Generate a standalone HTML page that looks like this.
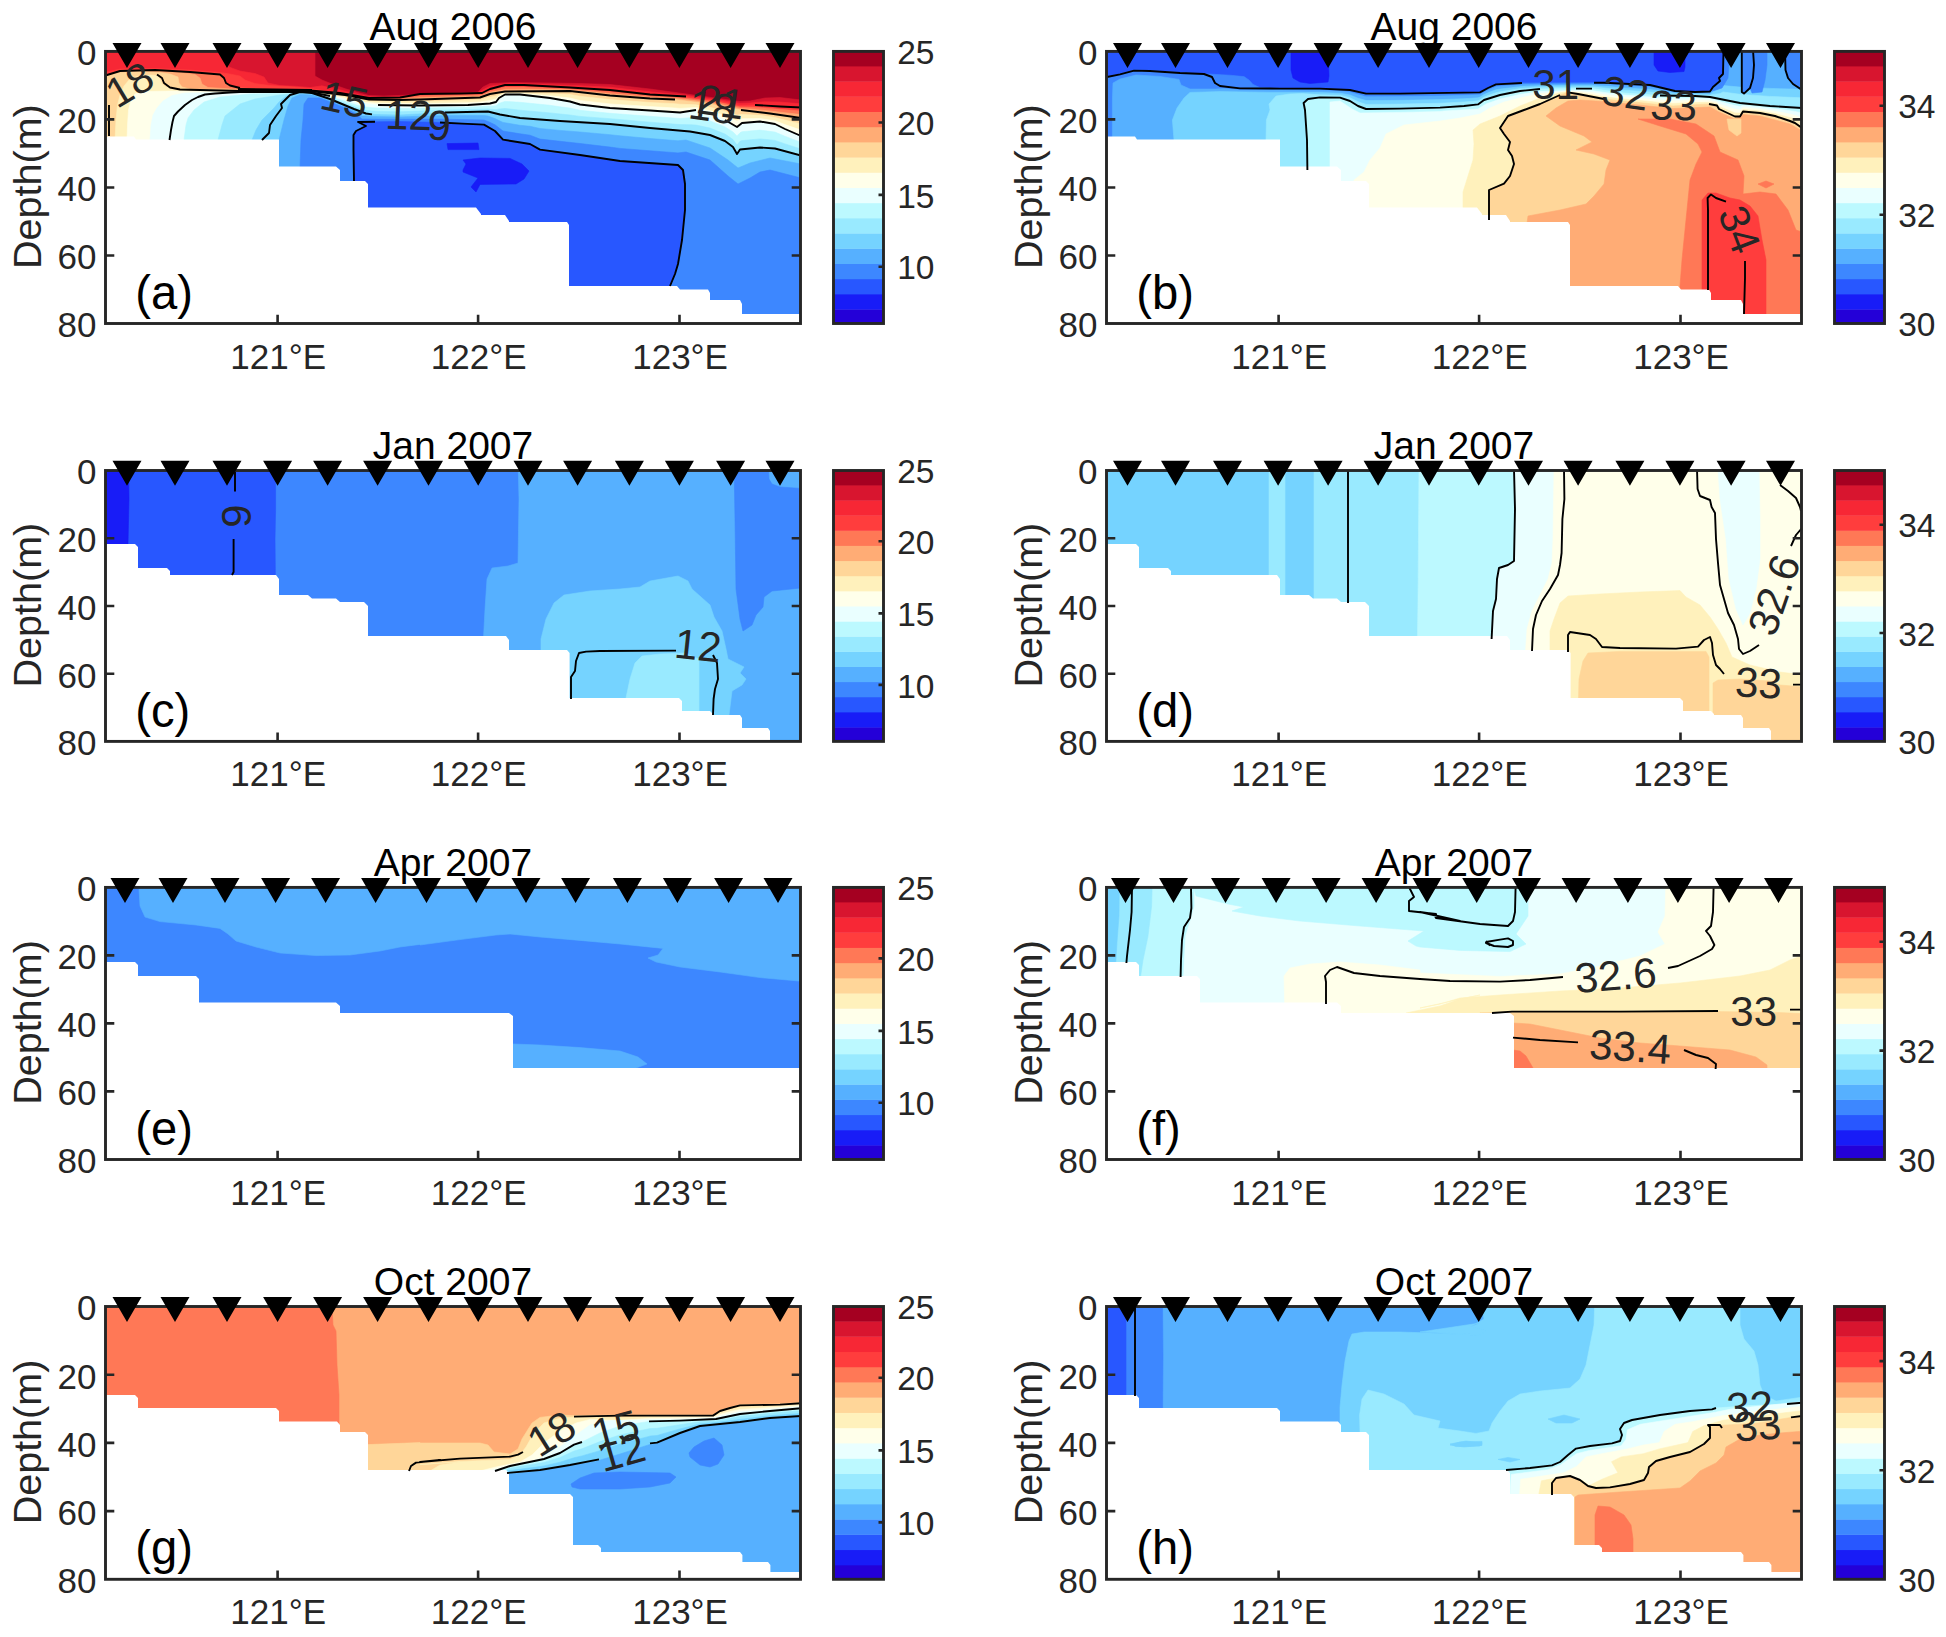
<!DOCTYPE html>
<html><head><meta charset="utf-8"><title>Temperature and salinity sections</title>
<style>html,body{margin:0;padding:0;background:#fff}svg{display:block}text{font-family:"Liberation Sans", sans-serif}</style></head>
<body><svg width="1946" height="1637" viewBox="0 0 1946 1637">
<rect width="1946" height="1637" fill="#fff"/>
<clipPath id="cp0"><rect x="105.5" y="51.4" width="695.0" height="272.1"/></clipPath>
<g clip-path="url(#cp0)">
<rect x="105.5" y="51.4" width="695.0" height="272.1" fill="#A50021"/>
<polygon points="105.0,51.0 315.0,51.0 315.0,76.0 322.0,80.0 332.0,84.0 346.0,89.0 360.0,93.0 369.0,95.5 384.0,96.0 410.0,95.0 440.0,93.5 470.0,92.5 478.0,92.0 483.0,87.0 490.0,83.5 510.0,82.5 550.0,83.0 580.0,83.5 610.0,84.5 650.0,89.0 690.0,94.5 715.0,98.0 740.0,101.5 750.0,101.0 765.0,98.0 780.0,97.5 801.0,100.0 801.0,330.0 105.0,330.0" fill="#D8152F" stroke="#D8152F" stroke-width="0.6"/>
<polygon points="105.0,51.0 225.0,51.0 229.0,67.0 240.0,71.0 255.0,73.5 264.0,77.0 268.0,83.0 280.0,85.5 295.0,86.2 310.0,87.5 322.0,85.8 332.0,88.2 340.0,89.9 346.0,91.5 360.0,94.7 369.0,96.8 384.0,96.9 400.0,96.4 410.0,95.4 420.0,94.2 440.0,93.6 460.0,93.2 470.0,92.9 478.0,92.5 482.0,90.5 483.0,89.8 490.0,86.2 505.0,83.9 510.0,83.8 524.0,83.8 550.0,84.7 570.0,85.4 580.0,85.8 610.0,87.2 650.0,91.8 686.0,95.2 690.0,95.8 715.0,99.2 720.0,99.8 740.0,103.5 750.0,103.1 755.0,102.5 765.0,101.8 780.0,102.0 801.0,103.8 801.0,330.0 105.0,330.0" fill="#F72735" stroke="#F72735" stroke-width="0.6"/>
<polygon points="105.0,72.0 107.0,72.0 120.0,69.0 155.0,68.5 190.0,70.0 220.0,72.5 230.0,74.0 240.0,76.0 245.0,80.0 255.0,83.5 270.0,85.5 295.0,87.0 310.0,88.5 340.0,93.0 369.0,98.0 400.0,97.5 420.0,94.0 460.0,93.5 482.0,93.0 490.0,89.0 505.0,85.0 524.0,85.0 570.0,87.5 610.0,90.0 650.0,94.5 686.0,96.5 720.0,101.0 740.0,105.5 755.0,105.0 780.0,106.5 801.0,107.5 801.0,330.0 105.0,330.0" fill="#FF3D3D" stroke="#FF3D3D" stroke-width="0.6"/>
<polygon points="105.0,76.0 107.0,75.0 120.0,71.0 155.0,70.0 190.0,72.0 220.0,74.5 224.0,78.0 226.0,83.0 230.0,85.5 240.0,88.0 275.0,90.0 310.0,90.3 340.0,93.5 345.0,94.2 369.0,98.5 400.0,98.3 420.0,95.8 460.0,95.0 480.0,94.5 482.0,94.3 490.0,90.7 505.0,87.1 524.0,87.1 570.0,88.7 610.0,91.8 650.0,95.8 675.0,97.1 686.0,98.0 710.0,101.1 720.0,102.6 740.0,106.9 741.0,107.0 755.0,107.2 770.0,108.4 780.0,109.3 801.0,111.0 801.0,330.0 105.0,330.0" fill="#FF7856" stroke="#FF7856" stroke-width="0.6"/>
<polygon points="105.0,76.5 107.0,75.5 120.0,71.7 150.0,70.8 180.0,72.5 195.0,74.5 200.0,78.0 202.0,84.0 208.0,87.5 240.0,89.5 310.0,90.6 340.0,94.0 345.0,94.6 369.0,99.0 400.0,99.2 420.0,97.7 460.0,96.6 480.0,96.0 482.0,95.5 490.0,92.3 505.0,89.4 524.0,89.3 570.0,89.8 610.0,93.7 650.0,97.2 675.0,98.3 686.0,99.5 710.0,102.6 720.0,104.3 740.0,108.4 741.0,108.5 755.0,109.5 770.0,111.0 780.0,112.2 801.0,114.5 801.0,330.0 105.0,330.0" fill="#FFAC75" stroke="#FFAC75" stroke-width="0.6"/>
<polygon points="105.0,77.0 107.0,76.0 120.0,72.4 140.0,71.6 160.0,72.5 170.0,74.0 178.0,77.0 179.0,83.0 182.0,87.0 190.0,89.0 240.0,90.5 310.0,91.0 345.0,95.0 369.0,99.5 400.0,100.0 420.0,99.5 480.0,97.5 490.0,94.0 505.0,91.5 570.0,91.0 610.0,95.5 650.0,98.5 675.0,99.5 710.0,104.0 741.0,110.0 770.0,113.5 801.0,118.0 801.0,330.0 105.0,330.0" fill="#FFD699" stroke="#FFD699" stroke-width="0.6"/>
<polygon points="115.0,140.0 116.0,120.0 117.5,105.0 120.0,95.0 124.0,86.0 129.0,80.0 137.0,76.5 150.0,75.0 157.0,75.5 160.0,79.0 162.0,84.0 166.0,87.0 172.0,89.0 190.0,90.3 240.0,91.2 310.0,91.3 345.0,96.4 348.0,97.0 358.0,99.3 369.0,101.0 378.0,101.4 400.0,101.7 420.0,101.5 468.0,100.2 480.0,99.7 490.0,97.1 496.0,96.0 499.0,94.3 505.0,92.5 520.0,92.4 550.0,93.4 570.0,94.5 580.0,96.2 610.0,99.6 650.0,102.5 675.0,103.7 680.0,104.2 696.0,104.8 710.0,107.3 725.0,111.2 737.0,115.1 741.0,114.6 742.0,114.4 760.0,115.3 770.0,116.7 775.0,117.5 785.0,120.1 801.0,123.9 801.0,330.0 115.0,330.0" fill="#FFF1BC" stroke="#FFF1BC" stroke-width="0.6"/>
<polygon points="127.0,140.0 127.5,125.0 128.5,110.0 131.0,100.0 135.0,94.0 142.0,91.5 170.0,91.0 240.0,91.8 310.0,91.6 345.0,97.9 348.0,98.5 358.0,101.2 369.0,102.6 378.0,103.2 400.0,103.5 420.0,103.5 468.0,102.7 480.0,102.0 490.0,100.4 496.0,99.0 499.0,96.2 505.0,93.5 520.0,93.5 550.0,95.7 570.0,98.0 580.0,100.4 610.0,103.9 650.0,106.5 675.0,108.0 680.0,108.4 696.0,107.4 710.0,110.7 725.0,115.7 737.0,121.1 741.0,119.2 742.0,118.7 760.0,118.5 770.0,120.0 775.0,120.8 785.0,124.6 801.0,130.1 801.0,330.0 127.0,330.0" fill="#FFFFEA" stroke="#FFFFEA" stroke-width="0.6"/>
<polygon points="150.0,140.0 151.0,125.0 153.0,115.0 157.0,108.0 163.0,101.0 172.0,95.5 185.0,93.0 240.0,92.3 310.0,92.0 335.0,97.0 348.0,100.0 358.0,103.0 378.0,105.0 420.0,105.5 468.0,105.0 490.0,103.5 496.0,102.0 499.0,98.0 505.0,94.5 520.0,94.5 550.0,98.0 570.0,101.5 580.0,104.5 610.0,108.0 650.0,110.5 680.0,112.5 696.0,110.0 710.0,114.0 725.0,120.0 737.0,127.0 742.0,123.0 760.0,121.5 775.0,124.0 785.0,129.0 801.0,136.0 801.0,330.0 150.0,330.0" fill="#EAFFFF" stroke="#EAFFFF" stroke-width="0.6"/>
<polygon points="184.0,140.0 186.0,125.0 188.0,118.0 194.0,110.0 204.0,102.0 220.0,97.0 250.0,94.0 294.0,93.0 310.0,92.5 335.0,98.3 348.0,102.1 354.0,104.2 358.0,105.5 366.0,107.0 372.0,107.7 378.0,108.1 400.0,108.5 420.0,108.3 445.0,107.6 468.0,107.3 488.0,106.2 490.0,106.3 496.0,105.8 499.0,103.4 500.0,103.1 505.0,101.4 520.0,102.3 550.0,105.3 560.0,106.8 570.0,108.1 580.0,110.3 610.0,113.3 650.0,116.3 680.0,118.5 690.0,117.7 696.0,117.4 710.0,120.9 725.0,126.9 733.0,132.0 737.0,135.9 740.0,132.8 742.0,131.7 760.0,130.1 775.0,132.1 785.0,136.3 801.0,142.4 801.0,330.0 184.0,330.0" fill="#BCF9FF" stroke="#BCF9FF" stroke-width="0.6"/>
<polygon points="218.0,140.0 222.0,125.0 225.0,116.0 240.0,104.0 255.0,99.0 280.0,95.0 294.0,93.5 310.0,92.8 335.0,99.7 348.0,104.4 354.0,106.6 358.0,108.0 366.0,110.3 372.0,111.1 378.0,111.4 400.0,111.8 420.0,111.1 445.0,110.1 468.0,109.7 488.0,108.9 490.0,109.2 496.0,109.7 499.0,108.9 500.0,108.9 505.0,108.5 520.0,110.2 550.0,112.9 560.0,114.0 570.0,115.0 580.0,116.4 610.0,118.7 650.0,122.2 680.0,124.6 690.0,124.7 696.0,125.1 710.0,128.1 725.0,134.1 733.0,139.6 737.0,145.1 740.0,141.3 742.0,140.6 760.0,138.9 775.0,140.4 785.0,143.9 801.0,149.1 801.0,330.0 218.0,330.0" fill="#99EAFF" stroke="#99EAFF" stroke-width="0.6"/>
<polygon points="252.0,140.0 256.0,130.0 262.0,120.0 274.0,108.0 279.0,102.0 285.0,97.0 290.0,94.5 300.0,92.5 312.0,93.0 330.0,99.0 354.0,109.0 366.0,113.5 372.0,114.4 400.0,115.0 445.0,112.5 488.0,111.5 500.0,114.5 520.0,118.0 560.0,121.0 610.0,124.0 650.0,128.0 690.0,131.5 710.0,135.0 725.0,141.0 733.0,147.0 737.0,154.0 740.0,149.5 760.0,147.5 775.0,148.5 801.0,155.5 801.0,330.0 252.0,330.0" fill="#75D3FF" stroke="#75D3FF" stroke-width="0.6"/>
<polygon points="279.0,168.0 279.0,140.0 284.0,120.0 288.0,106.0 292.0,98.0 300.0,94.5 312.0,95.0 330.0,100.5 354.0,110.5 362.0,116.0 366.0,116.0 372.0,116.6 400.0,116.9 440.0,115.7 445.0,115.6 462.0,115.6 484.0,115.5 488.0,116.1 495.0,118.6 500.0,121.1 503.0,122.4 520.0,125.3 530.0,126.3 540.0,128.5 560.0,130.4 580.0,132.0 610.0,134.7 620.0,135.8 650.0,138.5 678.0,140.8 686.0,140.0 710.0,148.0 728.0,160.0 738.0,168.0 750.0,163.0 770.0,158.0 801.0,164.0 801.0,330.0 279.0,330.0" fill="#56B0FF" stroke="#56B0FF" stroke-width="0.6"/>
<polygon points="300.0,168.0 301.0,140.0 303.0,120.0 304.0,104.0 308.0,98.0 320.0,98.0 330.0,102.0 345.0,108.0 356.0,114.0 362.0,119.0 366.0,119.0 372.0,119.2 400.0,119.2 440.0,119.1 445.0,119.2 462.0,119.6 484.0,120.0 488.0,121.5 495.0,124.8 500.0,128.7 503.0,131.0 520.0,133.8 530.0,135.2 540.0,139.1 560.0,141.3 580.0,143.5 610.0,147.1 620.0,148.4 650.0,150.8 678.0,152.9 686.0,152.0 710.0,160.0 728.0,176.0 738.0,184.0 750.0,178.0 760.0,172.0 770.0,170.0 801.0,178.0 801.0,330.0 300.0,330.0" fill="#3D87FF" stroke="#3D87FF" stroke-width="0.6"/>
<polygon points="354.0,181.0 353.5,150.0 353.5,135.0 356.0,131.0 366.0,126.0 358.0,122.0 400.0,121.5 440.0,122.5 462.0,123.6 484.0,124.6 495.0,131.0 503.0,139.6 530.0,144.0 540.0,149.6 580.0,155.0 620.0,161.0 678.0,165.0 683.0,170.0 685.0,184.0 685.0,210.0 682.0,240.0 678.0,264.0 675.0,274.0 670.0,286.0 670.0,330.0 354.0,330.0" fill="#2857FF" stroke="#2857FF" stroke-width="0.6"/>
<polygon points="463.0,170.0 466.0,164.0 463.0,160.0 480.0,158.0 510.0,158.4 522.0,164.0 529.0,171.0 524.0,179.0 516.0,184.0 480.0,184.4 476.0,192.0 471.0,187.0 478.0,178.0 463.0,172.0" fill="#181CF7" stroke="#181CF7" stroke-width="0.6"/>
<polygon points="447.0,143.6 478.0,143.0 479.0,149.6 448.0,149.6" fill="#181CF7" stroke="#181CF7" stroke-width="0.6"/>
<polygon points="100.0,136.5 134.0,136.5 136.0,139.5 279.0,139.5 279.0,166.6 336.0,166.6 340.0,170.0 340.0,181.0 365.0,181.0 368.0,184.0 368.0,207.6 476.0,207.6 481.0,214.0 481.0,215.0 505.0,215.0 509.0,221.0 509.0,222.0 567.0,222.0 569.0,225.0 569.0,286.0 677.0,286.0 680.0,289.6 708.0,289.6 710.0,293.0 710.0,300.0 740.0,300.0 742.0,304.0 742.0,314.0 805.0,314.0 805.0,335.0 100.0,335.0" fill="#fff"/>
<polyline points="105.0,76.0 107.0,75.0 120.0,71.0 155.0,70.0 190.0,72.0 220.0,74.5 224.0,78.0 226.0,83.0 230.0,85.5 240.0,88.0" fill="none" stroke="#000" stroke-width="1.90" stroke-linejoin="round"/>
<polyline points="157.0,74.5 162.0,78.0 164.0,83.0 170.0,87.5 180.0,89.5 240.0,91.0" fill="none" stroke="#000" stroke-width="1.90" stroke-linejoin="round"/>
<polyline points="238.0,90.0 312.0,91.0" fill="none" stroke="#000" stroke-width="4.00" stroke-linejoin="round"/>
<polyline points="310.0,90.5 340.0,93.0 369.0,98.0 400.0,97.5 420.0,94.0 460.0,93.5 482.0,93.0 490.0,89.0 505.0,85.0 524.0,85.0 570.0,87.5 610.0,90.0 650.0,94.5 686.0,96.5" fill="none" stroke="#000" stroke-width="1.90" stroke-linejoin="round"/>
<polyline points="755.0,105.0 780.0,106.5 801.0,107.5" fill="none" stroke="#000" stroke-width="1.90" stroke-linejoin="round"/>
<polyline points="310.0,91.0 345.0,95.0 369.0,99.5 400.0,100.0 420.0,99.5 480.0,97.5 490.0,94.0 505.0,91.5 570.0,91.0 610.0,95.5 650.0,98.5 675.0,99.5" fill="none" stroke="#000" stroke-width="1.90" stroke-linejoin="round"/>
<polyline points="741.0,110.0 770.0,113.5 801.0,118.0" fill="none" stroke="#000" stroke-width="1.90" stroke-linejoin="round"/>
<polyline points="169.5,140.0 171.0,130.0 172.5,122.0 174.0,116.0 178.0,111.5 185.0,105.0 192.0,100.0 198.0,97.0 205.0,94.5 215.0,93.5 230.0,92.5 240.0,92.0 310.0,92.0 330.0,96.0" fill="none" stroke="#000" stroke-width="1.90" stroke-linejoin="round"/>
<polyline points="378.0,105.0 420.0,105.5 468.0,105.0 490.0,103.5 496.0,102.0 499.0,98.0 505.0,94.5 520.0,94.5 550.0,98.0 570.0,101.5 580.0,104.5 610.0,108.0 650.0,110.5 680.0,112.5 696.0,110.0" fill="none" stroke="#000" stroke-width="1.90" stroke-linejoin="round"/>
<polyline points="725.0,120.0 737.0,127.0 742.0,123.0 760.0,121.5 775.0,124.0 785.0,129.0 801.0,136.0" fill="none" stroke="#000" stroke-width="1.90" stroke-linejoin="round"/>
<polyline points="262.0,140.0 269.0,133.0 270.0,125.0 276.0,116.0 282.0,108.0 281.0,104.0 290.0,95.0 300.0,92.0 312.0,93.0 330.0,99.0 354.0,109.0 366.0,113.5 372.0,114.4" fill="none" stroke="#000" stroke-width="1.90" stroke-linejoin="round"/>
<polyline points="445.0,112.5 488.0,111.5 500.0,114.5 520.0,118.0 560.0,121.0 610.0,124.0 650.0,128.0 690.0,131.5 710.0,135.0 725.0,141.0 733.0,147.0 737.0,154.0 740.0,149.5 760.0,147.5 775.0,148.5 801.0,155.5" fill="none" stroke="#000" stroke-width="1.90" stroke-linejoin="round"/>
<polyline points="354.0,181.0 353.5,150.0 353.5,135.0 356.0,131.0 366.0,126.0 358.0,122.0 375.0,121.8" fill="none" stroke="#000" stroke-width="1.90" stroke-linejoin="round"/>
<polyline points="440.0,122.5 462.0,123.6 484.0,124.6 495.0,131.0 503.0,139.6 530.0,144.0 540.0,149.6 580.0,155.0 620.0,161.0 678.0,165.0 683.0,170.0 685.0,184.0 685.0,210.0 682.0,240.0 678.0,264.0 675.0,274.0 670.0,286.0" fill="none" stroke="#000" stroke-width="1.90" stroke-linejoin="round"/>
<polyline points="109.0,105.0 109.0,136.0" fill="none" stroke="#000" stroke-width="1.90" stroke-linejoin="round"/>
<text x="129.6" y="84.7" font-size="42.0" fill="#262626" text-anchor="middle" dominant-baseline="central" transform="rotate(-31.0 129.6 84.7)">18</text>
<text x="344.4" y="99.3" font-size="42.0" fill="#262626" text-anchor="middle" dominant-baseline="central" transform="rotate(13.0 344.4 99.3)">15</text>
<text x="408.7" y="115.0" font-size="42.0" fill="#262626" text-anchor="middle" dominant-baseline="central" transform="rotate(2.0 408.7 115.0)">12</text>
<text x="439.2" y="125.5" font-size="42.0" fill="#262626" text-anchor="middle" dominant-baseline="central" transform="rotate(3.0 439.2 125.5)">9</text>
<text x="721.0" y="102.0" font-size="42.0" fill="#262626" text-anchor="middle" dominant-baseline="central" transform="rotate(8.0 721.0 102.0)">21</text>
<text x="712.4" y="107.0" font-size="42.0" fill="#262626" text-anchor="middle" dominant-baseline="central" transform="rotate(8.0 712.4 107.0)">18</text>
</g>
<rect x="105.5" y="51.4" width="695.0" height="272.1" fill="none" stroke="#262626" stroke-width="2.9"/>
<path d="M105.5 119.4h8.8M800.5 119.4h-8.8M105.5 187.5h8.8M800.5 187.5h-8.8M105.5 255.5h8.8M800.5 255.5h-8.8M277.6 323.5v-8.8M277.6 51.4v8.8M478.1 323.5v-8.8M478.1 51.4v8.8M679.5 323.5v-8.8M679.5 51.4v8.8" stroke="#262626" stroke-width="2.6" fill="none"/>
<text x="96.5" y="65.2" font-size="35" text-anchor="end" fill="#262626">0</text>
<text x="96.5" y="133.2" font-size="35" text-anchor="end" fill="#262626">20</text>
<text x="96.5" y="201.3" font-size="35" text-anchor="end" fill="#262626">40</text>
<text x="96.5" y="269.3" font-size="35" text-anchor="end" fill="#262626">60</text>
<text x="96.5" y="337.3" font-size="35" text-anchor="end" fill="#262626">80</text>
<text x="278.2" y="368.5" font-size="35" text-anchor="middle" fill="#262626">121°E</text>
<text x="478.7" y="368.5" font-size="35" text-anchor="middle" fill="#262626">122°E</text>
<text x="680.1" y="368.5" font-size="35" text-anchor="middle" fill="#262626">123°E</text>
<text x="453.0" y="39.8" font-size="39" text-anchor="middle" fill="#000">Aug 2006</text>
<text transform="translate(40.9 186.6) rotate(-90)" font-size="39.5" text-anchor="middle" fill="#262626">Depth(m)</text>
<text x="135.3" y="308.6" font-size="47.2" fill="#000">(a)</text>
<path d="M112.5 43.1h29l-14.5 25zM160.5 43.1h29l-14.5 25zM212.5 43.1h29l-14.5 25zM263.1 43.1h29l-14.5 25zM313.1 43.1h29l-14.5 25zM363.1 43.1h29l-14.5 25zM414.0 43.1h29l-14.5 25zM463.7 43.1h29l-14.5 25zM513.5 43.1h29l-14.5 25zM563.1 43.1h29l-14.5 25zM614.9 43.1h29l-14.5 25zM664.9 43.1h29l-14.5 25zM716.1 43.1h29l-14.5 25zM765.5 43.1h29l-14.5 25z" fill="#000"/>
<rect x="833.5" y="309.20" width="50.0" height="14.35" fill="#2400D8"/>
<rect x="833.5" y="294.00" width="50.0" height="15.60" fill="#181CF7"/>
<rect x="833.5" y="278.80" width="50.0" height="15.60" fill="#2857FF"/>
<rect x="833.5" y="263.60" width="50.0" height="15.60" fill="#3D87FF"/>
<rect x="833.5" y="248.40" width="50.0" height="15.60" fill="#56B0FF"/>
<rect x="833.5" y="233.20" width="50.0" height="15.60" fill="#75D3FF"/>
<rect x="833.5" y="218.00" width="50.0" height="15.60" fill="#99EAFF"/>
<rect x="833.5" y="202.80" width="50.0" height="15.60" fill="#BCF9FF"/>
<rect x="833.5" y="187.60" width="50.0" height="15.60" fill="#EAFFFF"/>
<rect x="833.5" y="172.40" width="50.0" height="15.60" fill="#FFFFEA"/>
<rect x="833.5" y="157.20" width="50.0" height="15.60" fill="#FFF1BC"/>
<rect x="833.5" y="142.00" width="50.0" height="15.60" fill="#FFD699"/>
<rect x="833.5" y="126.80" width="50.0" height="15.60" fill="#FFAC75"/>
<rect x="833.5" y="111.60" width="50.0" height="15.60" fill="#FF7856"/>
<rect x="833.5" y="96.40" width="50.0" height="15.60" fill="#FF3D3D"/>
<rect x="833.5" y="81.20" width="50.0" height="15.60" fill="#F72735"/>
<rect x="833.5" y="66.00" width="50.0" height="15.60" fill="#D8152F"/>
<rect x="833.5" y="51.40" width="50.0" height="15.00" fill="#A50021"/>
<rect x="833.5" y="51.4" width="50.0" height="272.1" fill="none" stroke="#262626" stroke-width="2.9"/>
<text x="897.2" y="135.1" font-size="33.5" fill="#262626">20</text>
<text x="897.2" y="207.5" font-size="33.5" fill="#262626">15</text>
<text x="897.2" y="279.4" font-size="33.5" fill="#262626">10</text>
<text x="897.2" y="64.0" font-size="33.5" fill="#262626">25</text>
<path d="M883.5 122.5h-5M883.5 194.9h-5M883.5 266.8h-5" stroke="#262626" stroke-width="2.6" fill="none"/>
<clipPath id="cp1"><rect x="1106.5" y="51.4" width="695.0" height="272.1"/></clipPath>
<g clip-path="url(#cp1)">
<rect x="1106.5" y="51.4" width="695.0" height="272.1" fill="#2857FF"/>
<polygon points="1107.0,76.6 1120.0,74.0 1134.0,70.2 1150.0,70.6 1180.0,72.6 1208.0,74.0 1230.0,75.2 1244.0,76.6 1249.0,80.0 1253.0,84.4 1260.0,87.6 1280.0,88.4 1320.0,88.6 1350.0,90.0 1366.0,93.6 1400.0,93.6 1480.0,92.4 1488.0,88.0 1496.0,84.4 1522.0,83.0 1594.0,82.8 1604.0,82.8 1610.0,83.0 1650.0,85.0 1675.0,91.0 1695.0,92.0 1710.0,91.5 1713.0,87.0 1720.0,81.0 1719.0,78.0 1723.0,74.0 1723.5,50.0 1810.0,50.0 1810.0,330.0 1107.0,330.0" fill="#3D87FF" stroke="#3D87FF" stroke-width="0.6"/>
<polygon points="1112.4,140.0 1112.4,100.0 1113.0,83.0 1120.0,79.0 1136.0,75.0 1160.0,76.4 1179.0,79.4 1181.0,85.0 1190.0,89.0 1216.0,89.0 1224.0,88.6 1240.0,90.0 1280.0,90.0 1320.0,90.4 1340.0,91.1 1350.0,92.2 1358.0,94.6 1366.0,96.7 1400.0,96.6 1440.0,95.9 1464.0,95.3 1478.0,94.8 1480.0,94.5 1484.0,92.2 1488.0,90.2 1496.0,86.8 1500.0,86.3 1520.0,84.7 1522.0,84.6 1540.0,84.2 1576.0,84.0 1592.0,84.0 1594.0,84.0 1604.0,84.3 1610.0,84.6 1624.0,85.6 1650.0,87.0 1660.0,89.0 1675.0,91.9 1695.0,92.8 1710.0,92.6 1713.0,89.1 1719.0,85.2 1720.0,84.6 1722.0,79.9 1726.0,76.0 1727.0,50.0 1810.0,50.0 1810.0,330.0 1112.4,330.0" fill="#56B0FF" stroke="#56B0FF" stroke-width="0.6"/>
<polygon points="1174.0,140.0 1172.4,120.0 1177.0,108.0 1184.0,98.0 1190.0,92.4 1220.0,91.6 1270.0,92.4 1300.0,92.4 1320.0,92.6 1340.0,93.2 1350.0,95.0 1358.0,98.2 1366.0,100.5 1400.0,100.3 1440.0,99.6 1464.0,98.7 1478.0,97.8 1480.0,97.1 1484.0,94.6 1488.0,92.8 1496.0,89.7 1500.0,89.1 1520.0,86.7 1522.0,86.5 1540.0,85.7 1576.0,85.4 1592.0,85.4 1594.0,85.5 1604.0,86.2 1610.0,86.6 1624.0,87.9 1650.0,89.4 1660.0,91.0 1675.0,93.1 1695.0,93.8 1710.0,94.0 1713.0,91.8 1719.0,89.5 1720.0,89.1 1723.0,85.5 1740.0,87.1 1770.0,88.4 1802.0,89.3 1802.0,330.0 1174.0,330.0" fill="#75D3FF" stroke="#75D3FF" stroke-width="0.6"/>
<polygon points="1266.0,140.0 1266.4,120.0 1270.0,110.0 1269.0,104.0 1276.0,96.0 1290.0,94.0 1302.0,93.6 1320.0,94.8 1340.0,95.2 1350.0,97.7 1358.0,101.7 1366.0,104.4 1400.0,104.1 1440.0,103.2 1464.0,102.0 1478.0,100.8 1480.0,99.8 1484.0,97.1 1488.0,95.5 1496.0,92.7 1500.0,91.8 1520.0,88.6 1522.0,88.5 1540.0,87.2 1576.0,86.9 1592.0,86.9 1594.0,87.1 1604.0,88.0 1610.0,88.7 1624.0,90.2 1650.0,91.9 1660.0,93.1 1675.0,94.3 1695.0,94.8 1710.0,95.3 1713.0,94.4 1719.0,93.7 1720.0,93.6 1723.0,91.9 1740.0,94.3 1770.0,96.4 1802.0,97.8 1802.0,330.0 1266.0,330.0" fill="#99EAFF" stroke="#99EAFF" stroke-width="0.6"/>
<polygon points="1307.4,170.0 1307.0,140.0 1305.0,110.0 1303.6,103.0 1308.0,99.0 1320.0,97.4 1340.0,97.6 1350.0,101.0 1358.0,106.0 1366.0,109.0 1400.0,108.6 1440.0,107.6 1464.0,106.0 1478.0,104.4 1484.0,100.0 1500.0,95.0 1520.0,91.0 1540.0,89.0 1576.0,88.6 1592.0,88.6 1624.0,93.0 1660.0,95.5 1695.0,96.0 1710.0,97.0 1740.0,103.0 1770.0,106.0 1802.0,108.0 1802.0,330.0 1307.4,330.0" fill="#BCF9FF" stroke="#BCF9FF" stroke-width="0.6"/>
<polygon points="1330.0,170.0 1330.0,102.0 1340.0,101.0 1352.0,109.0 1360.0,113.0 1400.0,112.4 1440.0,111.6 1444.0,111.0 1478.0,109.0 1486.0,104.0 1500.0,99.0 1520.0,94.4 1540.0,91.6 1568.0,90.5 1580.0,90.0 1592.0,90.6 1604.0,92.4 1624.0,95.0 1660.0,97.8 1673.0,98.3 1695.0,98.2 1709.0,98.7 1710.0,98.8 1717.0,100.2 1719.0,101.3 1735.0,105.6 1740.0,106.4 1743.0,105.3 1760.0,107.0 1770.0,108.2 1775.0,108.7 1790.0,110.7 1795.0,111.4 1802.0,113.0 1802.0,330.0 1330.0,330.0" fill="#EAFFFF" stroke="#EAFFFF" stroke-width="0.6"/>
<polygon points="1354.0,180.0 1364.0,172.0 1370.0,160.0 1380.0,148.0 1386.0,134.0 1404.0,125.0 1440.0,121.0 1460.0,118.0 1480.0,114.0 1490.0,108.0 1504.0,102.0 1524.0,97.0 1540.0,93.6 1568.0,91.2 1580.0,91.5 1592.0,92.6 1604.0,94.6 1624.0,97.0 1660.0,100.1 1673.0,100.8 1695.0,100.4 1709.0,100.5 1710.0,100.6 1717.0,102.0 1719.0,103.9 1735.0,109.2 1740.0,109.8 1743.0,107.4 1760.0,109.0 1770.0,110.5 1775.0,111.2 1790.0,114.1 1795.0,115.3 1802.0,118.0 1802.0,330.0 1354.0,330.0" fill="#FFFFEA" stroke="#FFFFEA" stroke-width="0.6"/>
<polygon points="1463.0,215.0 1463.0,192.0 1468.0,176.0 1473.0,160.0 1474.0,144.0 1473.0,130.0 1480.0,124.0 1500.0,116.0 1520.0,106.0 1540.0,98.0 1560.0,92.8 1568.0,91.8 1580.0,92.9 1592.0,94.7 1604.0,96.8 1624.0,99.0 1660.0,102.4 1673.0,103.4 1695.0,102.6 1709.0,102.2 1710.0,102.4 1717.0,103.7 1719.0,106.5 1735.0,112.9 1740.0,113.1 1743.0,109.5 1760.0,111.0 1770.0,112.8 1775.0,113.6 1790.0,117.6 1795.0,119.1 1802.0,123.0 1802.0,330.0 1463.0,330.0" fill="#FFF1BC" stroke="#FFF1BC" stroke-width="0.6"/>
<polygon points="1489.0,220.0 1489.0,190.0 1504.0,183.6 1510.0,176.0 1514.0,164.0 1512.0,156.0 1508.0,150.0 1510.0,142.0 1504.0,134.0 1500.0,128.0 1508.0,116.0 1524.0,110.0 1540.0,104.0 1560.0,95.0 1568.0,92.4 1578.0,94.0 1604.0,99.0 1673.0,106.0 1709.0,104.0 1717.0,105.5 1719.0,109.0 1735.0,116.5 1740.0,116.5 1743.0,111.5 1760.0,113.0 1775.0,116.0 1790.0,121.0 1795.0,123.0 1802.0,128.0 1802.0,330.0 1489.0,330.0" fill="#FFD699" stroke="#FFD699" stroke-width="0.6"/>
<polygon points="1526.0,230.0 1528.0,216.0 1560.0,210.0 1586.0,204.0 1594.0,196.0 1604.0,184.0 1606.0,170.0 1610.0,160.0 1594.0,154.0 1576.0,150.0 1592.0,142.0 1584.0,136.0 1560.0,126.0 1546.0,116.0 1556.0,108.0 1568.0,101.0 1580.0,100.0 1604.0,101.5 1673.0,108.5 1710.0,107.0 1719.0,112.0 1735.0,119.0 1743.0,114.5 1760.0,116.0 1790.0,124.0 1802.0,131.0 1802.0,330.0 1526.0,330.0" fill="#FFAC75" stroke="#FFAC75" stroke-width="0.6"/>
<polygon points="1727.0,119.0 1741.0,119.0 1741.0,133.0 1737.0,136.0 1729.0,130.0" fill="#FFD699" stroke="#FFD699" stroke-width="0.6"/>
<polygon points="1638.0,119.0 1670.0,119.0 1696.0,124.0 1714.0,136.0 1720.0,152.0 1738.0,160.0 1744.0,176.0 1743.0,194.0 1760.0,192.0 1776.0,194.0 1788.0,210.0 1796.0,230.0 1802.0,232.0 1802.0,320.0 1680.0,320.0 1680.0,286.0 1682.0,260.0 1686.0,220.0 1690.0,180.0 1696.0,164.0 1702.0,152.0 1698.0,144.0 1686.0,134.0 1660.0,126.0" fill="#FF7856" stroke="#FF7856" stroke-width="0.6"/>
<polygon points="1702.0,320.0 1702.0,200.0 1708.0,193.0 1716.0,193.0 1730.0,198.0 1740.0,200.0 1750.0,206.0 1758.0,216.0 1762.0,240.0 1766.0,260.0 1766.0,320.0" fill="#FF3D3D" stroke="#FF3D3D" stroke-width="0.6"/>
<polygon points="1758.0,184.0 1766.0,181.0 1774.0,184.0 1766.0,188.0" fill="#FF7856" stroke="#FF7856" stroke-width="0.6"/>
<polygon points="1291.0,50.0 1291.0,70.0 1293.0,78.0 1300.0,82.0 1310.0,83.4 1328.0,82.0 1329.0,76.0 1328.0,50.0" fill="#181CF7" stroke="#181CF7" stroke-width="0.6"/>
<polygon points="1654.0,50.0 1654.0,65.0 1658.0,71.0 1670.0,72.5 1684.0,71.5 1685.0,67.0 1685.0,50.0" fill="#181CF7" stroke="#181CF7" stroke-width="0.6"/>
<polygon points="1723.5,50.0 1723.0,74.0 1719.0,78.0 1720.0,81.0 1713.0,87.0 1712.0,91.0 1722.0,88.0 1728.0,78.0 1730.0,50.0" fill="#3D87FF" stroke="#3D87FF" stroke-width="0.6"/>
<polygon points="1741.8,50.0 1741.8,92.0 1744.0,93.6 1750.0,88.0 1753.0,78.0 1754.0,65.0 1753.0,50.0" fill="#3D87FF" stroke="#3D87FF" stroke-width="0.6"/>
<polygon points="1753.0,50.0 1754.0,65.0 1753.0,78.0 1750.0,88.0 1752.0,93.0 1762.0,92.0 1765.0,80.0 1767.0,65.0 1767.0,50.0" fill="#3D87FF" stroke="#3D87FF" stroke-width="0.6"/>
<polygon points="1785.0,50.0 1785.5,70.0 1788.0,78.0 1793.0,84.0 1802.0,90.0 1802.0,50.0" fill="#3D87FF" stroke="#3D87FF" stroke-width="0.6"/>
<polygon points="1101.0,136.5 1135.0,136.5 1137.0,139.5 1280.0,139.5 1280.0,166.6 1337.0,166.6 1341.0,170.0 1341.0,181.0 1366.0,181.0 1369.0,184.0 1369.0,207.6 1477.0,207.6 1482.0,214.0 1482.0,215.0 1506.0,215.0 1510.0,221.0 1510.0,222.0 1568.0,222.0 1570.0,225.0 1570.0,286.0 1678.0,286.0 1681.0,289.6 1709.0,289.6 1711.0,293.0 1711.0,300.0 1741.0,300.0 1743.0,304.0 1743.0,314.0 1806.0,314.0 1806.0,335.0 1101.0,335.0" fill="#fff"/>
<polyline points="1107.0,77.0 1120.0,74.4 1134.0,70.6 1150.0,71.0 1180.0,73.0 1204.0,74.0 1212.0,77.0 1215.0,83.0 1220.0,86.0 1240.0,88.4 1280.0,88.6 1320.0,88.6 1350.0,90.0 1366.0,93.6 1400.0,93.6 1480.0,92.4 1488.0,88.0 1496.0,84.4 1522.0,83.0" fill="none" stroke="#000" stroke-width="1.90" stroke-linejoin="round"/>
<polyline points="1594.0,82.8 1604.0,82.8 1610.0,83.0 1650.0,85.0 1675.0,91.0 1695.0,92.0 1710.0,91.5 1713.0,87.0 1720.0,81.0 1719.0,78.0 1723.0,74.0 1723.5,50.0" fill="none" stroke="#000" stroke-width="1.90" stroke-linejoin="round"/>
<polyline points="1307.4,170.0 1307.0,140.0 1305.0,110.0 1303.6,103.0 1308.0,99.0 1320.0,97.4 1340.0,97.6 1350.0,101.0 1358.0,106.0 1366.0,109.0 1400.0,108.6 1440.0,107.6 1464.0,106.0 1478.0,104.4 1484.0,100.0 1500.0,95.0 1520.0,91.0 1540.0,89.0" fill="none" stroke="#000" stroke-width="1.90" stroke-linejoin="round"/>
<polyline points="1576.0,88.6 1592.0,88.6" fill="none" stroke="#000" stroke-width="1.90" stroke-linejoin="round"/>
<polyline points="1660.0,95.5 1695.0,96.0 1710.0,97.0 1740.0,103.0 1770.0,106.0 1802.0,108.0" fill="none" stroke="#000" stroke-width="1.90" stroke-linejoin="round"/>
<polyline points="1489.0,220.0 1489.0,190.0 1504.0,183.6 1510.0,176.0 1514.0,164.0 1512.0,156.0 1508.0,150.0 1510.0,142.0 1504.0,134.0 1500.0,128.0 1508.0,116.0 1524.0,110.0 1540.0,104.0 1560.0,95.0" fill="none" stroke="#000" stroke-width="1.90" stroke-linejoin="round"/>
<polyline points="1568.0,92.4 1578.0,94.0 1604.0,99.0" fill="none" stroke="#000" stroke-width="1.90" stroke-linejoin="round"/>
<polyline points="1709.0,104.0 1717.0,105.5 1719.0,109.0 1735.0,116.5 1740.0,116.5 1743.0,111.5 1760.0,113.0 1775.0,116.0 1790.0,121.0 1795.0,123.0 1802.0,128.0" fill="none" stroke="#000" stroke-width="1.90" stroke-linejoin="round"/>
<polyline points="1708.0,290.0 1708.0,210.0 1707.6,198.0 1711.0,194.4 1716.0,198.0 1726.0,201.6" fill="none" stroke="#000" stroke-width="1.90" stroke-linejoin="round"/>
<polyline points="1745.0,261.0 1745.0,278.0 1744.0,314.0" fill="none" stroke="#000" stroke-width="1.90" stroke-linejoin="round"/>
<polyline points="1741.8,50.0 1741.8,92.0 1744.0,93.6 1750.0,88.0 1753.0,78.0 1754.0,65.0 1753.0,50.0" fill="none" stroke="#000" stroke-width="1.90" stroke-linejoin="round"/>
<polyline points="1785.0,50.0 1785.5,70.0 1788.0,78.0 1793.0,84.0 1802.0,90.0" fill="none" stroke="#000" stroke-width="1.90" stroke-linejoin="round"/>
<text x="1555.7" y="84.0" font-size="42.0" fill="#262626" text-anchor="middle" dominant-baseline="central" transform="rotate(0.0 1555.7 84.0)">31</text>
<text x="1625.3" y="93.2" font-size="42.0" fill="#262626" text-anchor="middle" dominant-baseline="central" transform="rotate(8.0 1625.3 93.2)">32</text>
<text x="1673.6" y="105.4" font-size="42.0" fill="#262626" text-anchor="middle" dominant-baseline="central" transform="rotate(1.0 1673.6 105.4)">33</text>
<text x="1739.5" y="229.5" font-size="42.0" fill="#262626" text-anchor="middle" dominant-baseline="central" transform="rotate(69.0 1739.5 229.5)">34</text>
</g>
<rect x="1106.5" y="51.4" width="695.0" height="272.1" fill="none" stroke="#262626" stroke-width="2.9"/>
<path d="M1106.5 119.4h8.8M1801.5 119.4h-8.8M1106.5 187.5h8.8M1801.5 187.5h-8.8M1106.5 255.5h8.8M1801.5 255.5h-8.8M1278.6 323.5v-8.8M1278.6 51.4v8.8M1479.1 323.5v-8.8M1479.1 51.4v8.8M1680.5 323.5v-8.8M1680.5 51.4v8.8" stroke="#262626" stroke-width="2.6" fill="none"/>
<text x="1097.5" y="65.2" font-size="35" text-anchor="end" fill="#262626">0</text>
<text x="1097.5" y="133.2" font-size="35" text-anchor="end" fill="#262626">20</text>
<text x="1097.5" y="201.3" font-size="35" text-anchor="end" fill="#262626">40</text>
<text x="1097.5" y="269.3" font-size="35" text-anchor="end" fill="#262626">60</text>
<text x="1097.5" y="337.3" font-size="35" text-anchor="end" fill="#262626">80</text>
<text x="1279.2" y="368.5" font-size="35" text-anchor="middle" fill="#262626">121°E</text>
<text x="1479.7" y="368.5" font-size="35" text-anchor="middle" fill="#262626">122°E</text>
<text x="1681.1" y="368.5" font-size="35" text-anchor="middle" fill="#262626">123°E</text>
<text x="1454.0" y="39.8" font-size="39" text-anchor="middle" fill="#000">Aug 2006</text>
<text transform="translate(1041.9 186.6) rotate(-90)" font-size="39.5" text-anchor="middle" fill="#262626">Depth(m)</text>
<text x="1136.3" y="308.6" font-size="47.2" fill="#000">(b)</text>
<path d="M1113.0 43.1h29l-14.5 25zM1161.0 43.1h29l-14.5 25zM1213.0 43.1h29l-14.5 25zM1263.6 43.1h29l-14.5 25zM1313.6 43.1h29l-14.5 25zM1363.6 43.1h29l-14.5 25zM1414.5 43.1h29l-14.5 25zM1464.2 43.1h29l-14.5 25zM1514.0 43.1h29l-14.5 25zM1563.6 43.1h29l-14.5 25zM1615.4 43.1h29l-14.5 25zM1665.4 43.1h29l-14.5 25zM1716.6 43.1h29l-14.5 25zM1766.0 43.1h29l-14.5 25z" fill="#000"/>
<rect x="1834.5" y="309.20" width="50.0" height="14.35" fill="#2400D8"/>
<rect x="1834.5" y="294.00" width="50.0" height="15.60" fill="#181CF7"/>
<rect x="1834.5" y="278.80" width="50.0" height="15.60" fill="#2857FF"/>
<rect x="1834.5" y="263.60" width="50.0" height="15.60" fill="#3D87FF"/>
<rect x="1834.5" y="248.40" width="50.0" height="15.60" fill="#56B0FF"/>
<rect x="1834.5" y="233.20" width="50.0" height="15.60" fill="#75D3FF"/>
<rect x="1834.5" y="218.00" width="50.0" height="15.60" fill="#99EAFF"/>
<rect x="1834.5" y="202.80" width="50.0" height="15.60" fill="#BCF9FF"/>
<rect x="1834.5" y="187.60" width="50.0" height="15.60" fill="#EAFFFF"/>
<rect x="1834.5" y="172.40" width="50.0" height="15.60" fill="#FFFFEA"/>
<rect x="1834.5" y="157.20" width="50.0" height="15.60" fill="#FFF1BC"/>
<rect x="1834.5" y="142.00" width="50.0" height="15.60" fill="#FFD699"/>
<rect x="1834.5" y="126.80" width="50.0" height="15.60" fill="#FFAC75"/>
<rect x="1834.5" y="111.60" width="50.0" height="15.60" fill="#FF7856"/>
<rect x="1834.5" y="96.40" width="50.0" height="15.60" fill="#FF3D3D"/>
<rect x="1834.5" y="81.20" width="50.0" height="15.60" fill="#F72735"/>
<rect x="1834.5" y="66.00" width="50.0" height="15.60" fill="#D8152F"/>
<rect x="1834.5" y="51.40" width="50.0" height="15.00" fill="#A50021"/>
<rect x="1834.5" y="51.4" width="50.0" height="272.1" fill="none" stroke="#262626" stroke-width="2.9"/>
<text x="1898.2" y="336.1" font-size="33.5" fill="#262626">30</text>
<text x="1898.2" y="227.3" font-size="33.5" fill="#262626">32</text>
<text x="1898.2" y="118.4" font-size="33.5" fill="#262626">34</text>
<path d="M1884.5 214.7h-5M1884.5 105.8h-5" stroke="#262626" stroke-width="2.6" fill="none"/>
<clipPath id="cp2"><rect x="105.5" y="470.5" width="695.0" height="270.9"/></clipPath>
<g clip-path="url(#cp2)">
<rect x="105.5" y="470.5" width="695.0" height="270.9" fill="#3D87FF"/>
<polygon points="100.0,459.0 275.6,459.0 275.6,509.0 275.0,539.0 275.6,599.0 100.0,599.0" fill="#2857FF" stroke="#2857FF" stroke-width="0.6"/>
<polygon points="100.0,459.0 128.4,459.0 129.0,499.0 128.0,543.0 128.0,559.0 100.0,559.0" fill="#181CF7" stroke="#181CF7" stroke-width="0.6"/>
<polygon points="518.0,459.0 519.0,499.0 518.0,563.0 508.0,566.0 492.0,568.0 487.0,579.0 485.0,609.0 483.6,636.0 483.6,759.0 810.0,759.0 810.0,459.0" fill="#56B0FF" stroke="#56B0FF" stroke-width="0.6"/>
<polygon points="541.0,659.0 541.0,639.0 546.0,619.0 554.0,603.0 564.0,595.0 590.0,591.0 620.0,589.0 640.0,587.0 650.0,581.0 678.0,576.0 688.0,581.0 692.0,589.0 710.0,605.0 714.0,617.0 722.0,631.0 726.0,649.0 728.0,659.0 744.0,667.0 740.0,673.0 746.0,679.0 742.0,685.0 732.0,691.0 729.0,715.0 729.0,739.0 541.0,739.0" fill="#75D3FF" stroke="#75D3FF" stroke-width="0.6"/>
<polygon points="626.0,719.0 626.0,698.0 630.0,679.0 635.0,663.0 642.0,656.0 660.0,654.0 684.0,653.0 699.0,659.0 699.0,719.0" fill="#99EAFF" stroke="#99EAFF" stroke-width="0.6"/>
<polygon points="734.0,459.0 735.0,519.0 736.0,589.0 740.0,619.0 743.0,631.0 752.0,625.0 756.0,615.0 763.0,607.0 764.0,597.0 772.0,591.0 810.0,587.0 810.0,489.0 780.0,487.0 772.0,484.0 769.0,479.0 768.0,459.0" fill="#3D87FF" stroke="#3D87FF" stroke-width="0.6"/>
<polygon points="100.0,544.0 135.0,544.0 138.0,547.0 138.0,568.0 167.0,568.0 170.0,571.0 170.0,575.0 276.0,575.0 279.0,579.0 279.0,595.0 308.0,595.0 312.0,598.6 336.0,598.6 340.0,602.0 364.0,602.0 368.0,606.0 368.0,636.0 506.0,636.0 509.0,640.0 509.0,650.0 567.0,650.0 569.6,653.0 569.6,698.0 679.0,698.0 682.0,701.0 682.0,711.0 710.0,711.0 713.0,714.0 713.0,715.0 740.0,715.0 742.0,718.0 742.0,728.0 768.0,728.0 770.0,731.0 770.0,749.0 80.0,749.0" fill="#fff"/>
<polyline points="235.0,471.0 235.0,491.4" fill="none" stroke="#000" stroke-width="1.90" stroke-linejoin="round"/>
<polyline points="233.6,539.0 233.6,572.0 232.0,575.0" fill="none" stroke="#000" stroke-width="1.90" stroke-linejoin="round"/>
<polyline points="571.0,699.0 571.0,677.0 575.0,671.0 576.0,661.0 579.0,653.0 586.0,651.6 600.0,651.0 676.0,650.6" fill="none" stroke="#000" stroke-width="1.90" stroke-linejoin="round"/>
<polyline points="713.0,655.0 717.0,663.0 718.0,679.0 715.0,689.0 713.6,699.0 713.0,715.0" fill="none" stroke="#000" stroke-width="1.90" stroke-linejoin="round"/>
<text x="236.4" y="516.0" font-size="42.0" fill="#262626" text-anchor="middle" dominant-baseline="central" transform="rotate(-90.0 236.4 516.0)">9</text>
<text x="698.1" y="645.5" font-size="42.0" fill="#262626" text-anchor="middle" dominant-baseline="central" transform="rotate(6.0 698.1 645.5)">12</text>
</g>
<rect x="105.5" y="470.5" width="695.0" height="270.9" fill="none" stroke="#262626" stroke-width="2.9"/>
<path d="M105.5 538.2h8.8M800.5 538.2h-8.8M105.5 606.0h8.8M800.5 606.0h-8.8M105.5 673.7h8.8M800.5 673.7h-8.8M277.6 741.4v-8.8M277.6 470.5v8.8M478.1 741.4v-8.8M478.1 470.5v8.8M679.5 741.4v-8.8M679.5 470.5v8.8" stroke="#262626" stroke-width="2.6" fill="none"/>
<text x="96.5" y="484.3" font-size="35" text-anchor="end" fill="#262626">0</text>
<text x="96.5" y="552.0" font-size="35" text-anchor="end" fill="#262626">20</text>
<text x="96.5" y="619.8" font-size="35" text-anchor="end" fill="#262626">40</text>
<text x="96.5" y="687.5" font-size="35" text-anchor="end" fill="#262626">60</text>
<text x="96.5" y="755.2" font-size="35" text-anchor="end" fill="#262626">80</text>
<text x="278.2" y="786.4" font-size="35" text-anchor="middle" fill="#262626">121°E</text>
<text x="478.7" y="786.4" font-size="35" text-anchor="middle" fill="#262626">122°E</text>
<text x="680.1" y="786.4" font-size="35" text-anchor="middle" fill="#262626">123°E</text>
<text x="453.0" y="458.9" font-size="39" text-anchor="middle" fill="#000">Jan 2007</text>
<text transform="translate(40.9 605.1) rotate(-90)" font-size="39.5" text-anchor="middle" fill="#262626">Depth(m)</text>
<text x="135.3" y="726.5" font-size="47.2" fill="#000">(c)</text>
<path d="M112.5 460.8h29l-14.5 25zM160.5 460.8h29l-14.5 25zM212.5 460.8h29l-14.5 25zM263.1 460.8h29l-14.5 25zM313.1 460.8h29l-14.5 25zM363.1 460.8h29l-14.5 25zM414.0 460.8h29l-14.5 25zM463.7 460.8h29l-14.5 25zM513.5 460.8h29l-14.5 25zM563.1 460.8h29l-14.5 25zM614.9 460.8h29l-14.5 25zM664.9 460.8h29l-14.5 25zM716.1 460.8h29l-14.5 25zM765.5 460.8h29l-14.5 25z" fill="#000"/>
<rect x="833.5" y="727.12" width="50.0" height="14.28" fill="#2400D8"/>
<rect x="833.5" y="711.99" width="50.0" height="15.53" fill="#181CF7"/>
<rect x="833.5" y="696.86" width="50.0" height="15.53" fill="#2857FF"/>
<rect x="833.5" y="681.73" width="50.0" height="15.53" fill="#3D87FF"/>
<rect x="833.5" y="666.60" width="50.0" height="15.53" fill="#56B0FF"/>
<rect x="833.5" y="651.46" width="50.0" height="15.53" fill="#75D3FF"/>
<rect x="833.5" y="636.33" width="50.0" height="15.53" fill="#99EAFF"/>
<rect x="833.5" y="621.20" width="50.0" height="15.53" fill="#BCF9FF"/>
<rect x="833.5" y="606.07" width="50.0" height="15.53" fill="#EAFFFF"/>
<rect x="833.5" y="590.94" width="50.0" height="15.53" fill="#FFFFEA"/>
<rect x="833.5" y="575.81" width="50.0" height="15.53" fill="#FFF1BC"/>
<rect x="833.5" y="560.68" width="50.0" height="15.53" fill="#FFD699"/>
<rect x="833.5" y="545.55" width="50.0" height="15.53" fill="#FFAC75"/>
<rect x="833.5" y="530.42" width="50.0" height="15.53" fill="#FF7856"/>
<rect x="833.5" y="515.29" width="50.0" height="15.53" fill="#FF3D3D"/>
<rect x="833.5" y="500.16" width="50.0" height="15.53" fill="#F72735"/>
<rect x="833.5" y="485.03" width="50.0" height="15.53" fill="#D8152F"/>
<rect x="833.5" y="470.50" width="50.0" height="14.93" fill="#A50021"/>
<rect x="833.5" y="470.5" width="50.0" height="270.9" fill="none" stroke="#262626" stroke-width="2.9"/>
<text x="897.2" y="553.8" font-size="33.5" fill="#262626">20</text>
<text x="897.2" y="626.0" font-size="33.5" fill="#262626">15</text>
<text x="897.2" y="697.5" font-size="33.5" fill="#262626">10</text>
<text x="897.2" y="483.1" font-size="33.5" fill="#262626">25</text>
<path d="M883.5 541.2h-5M883.5 613.4h-5M883.5 684.9h-5" stroke="#262626" stroke-width="2.6" fill="none"/>
<clipPath id="cp3"><rect x="1106.5" y="470.5" width="695.0" height="270.9"/></clipPath>
<g clip-path="url(#cp3)">
<rect x="1106.5" y="470.5" width="695.0" height="270.9" fill="#75D3FF"/>
<polygon points="1269.0,459.0 1285.0,459.0 1285.0,619.0 1269.0,619.0" fill="#99EAFF" stroke="#99EAFF" stroke-width="0.6"/>
<polygon points="1314.0,459.0 1419.0,459.0 1418.0,599.0 1417.0,659.0 1314.0,659.0" fill="#99EAFF" stroke="#99EAFF" stroke-width="0.6"/>
<polygon points="1419.0,459.0 1418.0,599.0 1417.0,659.0 1820.0,659.0 1820.0,459.0" fill="#BCF9FF" stroke="#BCF9FF" stroke-width="0.6"/>
<polygon points="1514.0,469.0 1515.0,509.0 1514.0,561.0 1508.0,565.0 1499.0,568.0 1497.0,579.0 1496.0,599.0 1493.0,611.0 1491.6,639.0 1491.6,759.0 1820.0,759.0 1820.0,469.0" fill="#EAFFFF" stroke="#EAFFFF" stroke-width="0.6"/>
<polygon points="1554.0,469.0 1553.0,539.0 1552.0,563.0 1548.0,579.0 1540.0,595.0 1532.0,611.0 1527.0,629.0 1525.0,659.0 1525.0,759.0 1820.0,759.0 1820.0,469.0" fill="#FFFFEA" stroke="#FFFFEA" stroke-width="0.6"/>
<polygon points="1550.0,659.0 1550.0,631.0 1554.0,619.0 1560.0,603.0 1568.0,596.0 1600.0,594.0 1640.0,592.0 1680.0,590.6 1686.0,597.0 1700.0,605.0 1710.0,617.0 1718.0,629.0 1726.0,643.0 1732.0,657.0 1750.0,665.0 1780.0,672.0 1804.0,675.0 1804.0,759.0 1550.0,759.0" fill="#FFF1BC" stroke="#FFF1BC" stroke-width="0.6"/>
<polygon points="1578.0,719.0 1579.0,679.0 1583.0,661.0 1588.0,653.0 1620.0,651.4 1706.0,651.4 1709.0,657.0 1709.0,719.0" fill="#FFD699" stroke="#FFD699" stroke-width="0.6"/>
<polygon points="1713.0,759.0 1713.0,683.0 1718.0,680.0 1740.0,679.0 1770.0,681.0 1780.0,685.0 1804.0,687.0 1804.0,759.0" fill="#FFD699" stroke="#FFD699" stroke-width="0.6"/>
<polygon points="1718.0,469.0 1720.0,499.0 1726.0,539.0 1729.0,579.0 1736.0,609.0 1743.0,625.0 1750.0,613.0 1756.0,589.0 1760.0,559.0 1760.0,519.0 1759.0,469.0" fill="#EAFFFF" stroke="#EAFFFF" stroke-width="0.6"/>
<polygon points="1101.0,544.0 1136.0,544.0 1139.0,547.0 1139.0,568.0 1168.0,568.0 1171.0,571.0 1171.0,575.0 1277.0,575.0 1280.0,579.0 1280.0,595.0 1309.0,595.0 1313.0,598.6 1337.0,598.6 1341.0,602.0 1365.0,602.0 1369.0,606.0 1369.0,636.0 1507.0,636.0 1510.0,640.0 1510.0,650.0 1568.0,650.0 1570.6,653.0 1570.6,698.0 1680.0,698.0 1683.0,701.0 1683.0,711.0 1711.0,711.0 1714.0,714.0 1714.0,715.0 1741.0,715.0 1743.0,718.0 1743.0,728.0 1769.0,728.0 1771.0,731.0 1771.0,749.0 1081.0,749.0" fill="#fff"/>
<polyline points="1348.0,470.0 1348.0,603.0" fill="none" stroke="#000" stroke-width="1.90" stroke-linejoin="round"/>
<polyline points="1514.0,469.0 1515.0,509.0 1514.0,561.0 1508.0,565.0 1499.0,568.0 1497.0,579.0 1496.0,599.0 1493.0,611.0 1491.6,639.0" fill="none" stroke="#000" stroke-width="1.90" stroke-linejoin="round"/>
<polyline points="1564.0,469.0 1564.4,499.0 1562.4,519.0 1561.6,553.0 1560.0,565.0 1558.0,575.0 1550.0,589.0 1542.0,601.0 1536.0,615.0 1533.0,629.0 1532.0,651.0" fill="none" stroke="#000" stroke-width="1.90" stroke-linejoin="round"/>
<polyline points="1697.0,469.0 1697.6,489.0 1700.0,496.0 1710.0,500.0 1711.6,507.0 1715.0,513.0 1716.0,539.0 1718.0,563.0 1720.0,585.0 1724.0,599.0 1728.0,613.0 1734.0,625.0 1738.0,639.0 1739.0,649.0 1743.0,654.0 1750.0,651.0 1759.0,645.0" fill="none" stroke="#000" stroke-width="1.90" stroke-linejoin="round"/>
<polyline points="1791.0,546.0 1796.0,535.0 1802.0,528.0" fill="none" stroke="#000" stroke-width="1.90" stroke-linejoin="round"/>
<polyline points="1568.0,652.0 1568.0,635.0 1570.0,632.0 1590.0,635.0 1596.0,639.0 1602.0,647.0 1620.0,648.0 1676.0,648.6 1698.0,646.6 1704.0,640.0 1710.0,637.0 1712.0,643.0 1713.0,655.0 1716.0,665.0 1720.0,669.0 1724.0,674.0" fill="none" stroke="#000" stroke-width="1.90" stroke-linejoin="round"/>
<polyline points="1780.0,485.0 1788.0,491.0 1796.0,498.0 1800.0,507.0 1801.0,511.0" fill="none" stroke="#000" stroke-width="1.90" stroke-linejoin="round"/>
<polyline points="1793.0,684.6 1802.0,684.6" fill="none" stroke="#000" stroke-width="1.90" stroke-linejoin="round"/>
<text x="1774.0" y="595.0" font-size="42.0" fill="#262626" text-anchor="middle" dominant-baseline="central" transform="rotate(-71.0 1774.0 595.0)">32.6</text>
<text x="1758.5" y="683.0" font-size="42.0" fill="#262626" text-anchor="middle" dominant-baseline="central" transform="rotate(3.0 1758.5 683.0)">33</text>
</g>
<rect x="1106.5" y="470.5" width="695.0" height="270.9" fill="none" stroke="#262626" stroke-width="2.9"/>
<path d="M1106.5 538.2h8.8M1801.5 538.2h-8.8M1106.5 606.0h8.8M1801.5 606.0h-8.8M1106.5 673.7h8.8M1801.5 673.7h-8.8M1278.6 741.4v-8.8M1278.6 470.5v8.8M1479.1 741.4v-8.8M1479.1 470.5v8.8M1680.5 741.4v-8.8M1680.5 470.5v8.8" stroke="#262626" stroke-width="2.6" fill="none"/>
<text x="1097.5" y="484.3" font-size="35" text-anchor="end" fill="#262626">0</text>
<text x="1097.5" y="552.0" font-size="35" text-anchor="end" fill="#262626">20</text>
<text x="1097.5" y="619.8" font-size="35" text-anchor="end" fill="#262626">40</text>
<text x="1097.5" y="687.5" font-size="35" text-anchor="end" fill="#262626">60</text>
<text x="1097.5" y="755.2" font-size="35" text-anchor="end" fill="#262626">80</text>
<text x="1279.2" y="786.4" font-size="35" text-anchor="middle" fill="#262626">121°E</text>
<text x="1479.7" y="786.4" font-size="35" text-anchor="middle" fill="#262626">122°E</text>
<text x="1681.1" y="786.4" font-size="35" text-anchor="middle" fill="#262626">123°E</text>
<text x="1454.0" y="458.9" font-size="39" text-anchor="middle" fill="#000">Jan 2007</text>
<text transform="translate(1041.9 605.1) rotate(-90)" font-size="39.5" text-anchor="middle" fill="#262626">Depth(m)</text>
<text x="1136.3" y="726.5" font-size="47.2" fill="#000">(d)</text>
<path d="M1113.0 460.8h29l-14.5 25zM1161.0 460.8h29l-14.5 25zM1213.0 460.8h29l-14.5 25zM1263.6 460.8h29l-14.5 25zM1313.6 460.8h29l-14.5 25zM1363.6 460.8h29l-14.5 25zM1414.5 460.8h29l-14.5 25zM1464.2 460.8h29l-14.5 25zM1514.0 460.8h29l-14.5 25zM1563.6 460.8h29l-14.5 25zM1615.4 460.8h29l-14.5 25zM1665.4 460.8h29l-14.5 25zM1716.6 460.8h29l-14.5 25zM1766.0 460.8h29l-14.5 25z" fill="#000"/>
<rect x="1834.5" y="727.12" width="50.0" height="14.28" fill="#2400D8"/>
<rect x="1834.5" y="711.99" width="50.0" height="15.53" fill="#181CF7"/>
<rect x="1834.5" y="696.86" width="50.0" height="15.53" fill="#2857FF"/>
<rect x="1834.5" y="681.73" width="50.0" height="15.53" fill="#3D87FF"/>
<rect x="1834.5" y="666.60" width="50.0" height="15.53" fill="#56B0FF"/>
<rect x="1834.5" y="651.46" width="50.0" height="15.53" fill="#75D3FF"/>
<rect x="1834.5" y="636.33" width="50.0" height="15.53" fill="#99EAFF"/>
<rect x="1834.5" y="621.20" width="50.0" height="15.53" fill="#BCF9FF"/>
<rect x="1834.5" y="606.07" width="50.0" height="15.53" fill="#EAFFFF"/>
<rect x="1834.5" y="590.94" width="50.0" height="15.53" fill="#FFFFEA"/>
<rect x="1834.5" y="575.81" width="50.0" height="15.53" fill="#FFF1BC"/>
<rect x="1834.5" y="560.68" width="50.0" height="15.53" fill="#FFD699"/>
<rect x="1834.5" y="545.55" width="50.0" height="15.53" fill="#FFAC75"/>
<rect x="1834.5" y="530.42" width="50.0" height="15.53" fill="#FF7856"/>
<rect x="1834.5" y="515.29" width="50.0" height="15.53" fill="#FF3D3D"/>
<rect x="1834.5" y="500.16" width="50.0" height="15.53" fill="#F72735"/>
<rect x="1834.5" y="485.03" width="50.0" height="15.53" fill="#D8152F"/>
<rect x="1834.5" y="470.50" width="50.0" height="14.93" fill="#A50021"/>
<rect x="1834.5" y="470.5" width="50.0" height="270.9" fill="none" stroke="#262626" stroke-width="2.9"/>
<text x="1898.2" y="754.0" font-size="33.5" fill="#262626">30</text>
<text x="1898.2" y="645.6" font-size="33.5" fill="#262626">32</text>
<text x="1898.2" y="537.3" font-size="33.5" fill="#262626">34</text>
<path d="M1884.5 633.0h-5M1884.5 524.7h-5" stroke="#262626" stroke-width="2.6" fill="none"/>
<clipPath id="cp4"><rect x="105.5" y="887.4" width="695.0" height="272.1"/></clipPath>
<g clip-path="url(#cp4)">
<rect x="105.5" y="887.4" width="695.0" height="272.1" fill="#3D87FF"/>
<polygon points="139.0,876.0 139.0,889.0 140.0,906.0 145.0,917.0 160.0,921.6 196.0,925.0 220.0,928.4 228.0,934.0 236.0,941.0 256.0,947.0 280.0,953.0 316.0,955.6 350.0,955.0 380.0,951.0 400.0,947.0 420.0,944.4 420.0,945.0 460.0,939.6 496.0,935.0 510.0,934.0 540.0,937.0 580.0,940.4 620.0,944.0 663.0,948.4 658.0,955.0 648.0,958.0 656.0,962.0 680.0,967.0 720.0,972.0 760.0,977.6 810.0,982.0 810.0,876.0" fill="#56B0FF" stroke="#56B0FF" stroke-width="0.6"/>
<polygon points="513.0,1044.0 540.0,1045.0 580.0,1047.6 620.0,1051.0 638.0,1057.0 647.0,1064.0 636.0,1068.0 636.0,1076.0 513.0,1076.0" fill="#56B0FF" stroke="#56B0FF" stroke-width="0.6"/>
<polygon points="100.0,962.0 135.0,962.0 138.0,965.0 138.0,976.0 196.0,976.0 199.0,979.0 199.0,1002.6 336.0,1002.6 340.0,1006.0 340.0,1013.0 509.0,1013.0 513.0,1016.0 513.0,1068.0 810.0,1068.0 810.0,1176.0 80.0,1176.0" fill="#fff"/>
</g>
<rect x="105.5" y="887.4" width="695.0" height="272.1" fill="none" stroke="#262626" stroke-width="2.9"/>
<path d="M105.5 955.4h8.8M800.5 955.4h-8.8M105.5 1023.4h8.8M800.5 1023.4h-8.8M105.5 1091.4h8.8M800.5 1091.4h-8.8M277.6 1159.5v-8.8M277.6 887.4v8.8M478.1 1159.5v-8.8M478.1 887.4v8.8M679.5 1159.5v-8.8M679.5 887.4v8.8" stroke="#262626" stroke-width="2.6" fill="none"/>
<text x="96.5" y="901.2" font-size="35" text-anchor="end" fill="#262626">0</text>
<text x="96.5" y="969.2" font-size="35" text-anchor="end" fill="#262626">20</text>
<text x="96.5" y="1037.2" font-size="35" text-anchor="end" fill="#262626">40</text>
<text x="96.5" y="1105.2" font-size="35" text-anchor="end" fill="#262626">60</text>
<text x="96.5" y="1173.2" font-size="35" text-anchor="end" fill="#262626">80</text>
<text x="278.2" y="1204.5" font-size="35" text-anchor="middle" fill="#262626">121°E</text>
<text x="478.7" y="1204.5" font-size="35" text-anchor="middle" fill="#262626">122°E</text>
<text x="680.1" y="1204.5" font-size="35" text-anchor="middle" fill="#262626">123°E</text>
<text x="453.0" y="875.8" font-size="39" text-anchor="middle" fill="#000">Apr 2007</text>
<text transform="translate(40.9 1022.5) rotate(-90)" font-size="39.5" text-anchor="middle" fill="#262626">Depth(m)</text>
<text x="135.3" y="1144.5" font-size="47.2" fill="#000">(e)</text>
<path d="M110.5 878.1h29l-14.5 25zM158.5 878.1h29l-14.5 25zM210.5 878.1h29l-14.5 25zM261.1 878.1h29l-14.5 25zM311.1 878.1h29l-14.5 25zM361.1 878.1h29l-14.5 25zM412.0 878.1h29l-14.5 25zM461.7 878.1h29l-14.5 25zM511.5 878.1h29l-14.5 25zM561.1 878.1h29l-14.5 25zM612.9 878.1h29l-14.5 25zM662.9 878.1h29l-14.5 25zM714.1 878.1h29l-14.5 25zM763.5 878.1h29l-14.5 25z" fill="#000"/>
<rect x="833.5" y="1145.11" width="50.0" height="14.34" fill="#2400D8"/>
<rect x="833.5" y="1129.91" width="50.0" height="15.59" fill="#181CF7"/>
<rect x="833.5" y="1114.72" width="50.0" height="15.59" fill="#2857FF"/>
<rect x="833.5" y="1099.52" width="50.0" height="15.59" fill="#3D87FF"/>
<rect x="833.5" y="1084.33" width="50.0" height="15.59" fill="#56B0FF"/>
<rect x="833.5" y="1069.13" width="50.0" height="15.59" fill="#75D3FF"/>
<rect x="833.5" y="1053.94" width="50.0" height="15.59" fill="#99EAFF"/>
<rect x="833.5" y="1038.74" width="50.0" height="15.59" fill="#BCF9FF"/>
<rect x="833.5" y="1023.55" width="50.0" height="15.59" fill="#EAFFFF"/>
<rect x="833.5" y="1008.36" width="50.0" height="15.59" fill="#FFFFEA"/>
<rect x="833.5" y="993.16" width="50.0" height="15.59" fill="#FFF1BC"/>
<rect x="833.5" y="977.97" width="50.0" height="15.59" fill="#FFD699"/>
<rect x="833.5" y="962.77" width="50.0" height="15.59" fill="#FFAC75"/>
<rect x="833.5" y="947.58" width="50.0" height="15.59" fill="#FF7856"/>
<rect x="833.5" y="932.38" width="50.0" height="15.59" fill="#FF3D3D"/>
<rect x="833.5" y="917.19" width="50.0" height="15.59" fill="#F72735"/>
<rect x="833.5" y="901.99" width="50.0" height="15.59" fill="#D8152F"/>
<rect x="833.5" y="887.40" width="50.0" height="14.99" fill="#A50021"/>
<rect x="833.5" y="887.4" width="50.0" height="272.1" fill="none" stroke="#262626" stroke-width="2.9"/>
<text x="897.2" y="971.0" font-size="33.5" fill="#262626">20</text>
<text x="897.2" y="1043.5" font-size="33.5" fill="#262626">15</text>
<text x="897.2" y="1115.3" font-size="33.5" fill="#262626">10</text>
<text x="897.2" y="900.0" font-size="33.5" fill="#262626">25</text>
<path d="M883.5 958.4h-5M883.5 1030.9h-5M883.5 1102.7h-5" stroke="#262626" stroke-width="2.6" fill="none"/>
<clipPath id="cp5"><rect x="1106.5" y="887.4" width="695.0" height="272.1"/></clipPath>
<g clip-path="url(#cp5)">
<rect x="1106.5" y="887.4" width="695.0" height="272.1" fill="#EAFFFF"/>
<polygon points="1100.0,876.0 1194.0,876.0 1194.0,906.0 1190.0,920.0 1185.0,936.0 1183.0,976.0 1183.0,1016.0 1100.0,1016.0" fill="#BCF9FF" stroke="#BCF9FF" stroke-width="0.6"/>
<polygon points="1100.0,876.0 1152.4,876.0 1151.6,906.0 1148.0,936.0 1143.0,960.0 1140.0,980.0 1100.0,980.0" fill="#99EAFF" stroke="#99EAFF" stroke-width="0.6"/>
<polygon points="1100.0,876.0 1119.4,876.0 1119.0,916.0 1117.0,942.0 1115.6,966.0 1100.0,966.0" fill="#75D3FF" stroke="#75D3FF" stroke-width="0.6"/>
<polygon points="1194.0,876.0 1194.0,889.0 1196.0,896.0 1228.0,904.0 1244.0,907.0 1232.0,911.0 1260.0,916.0 1300.0,921.0 1360.0,926.0 1424.0,931.0 1408.0,941.0 1416.0,946.0 1420.0,947.0 1460.0,950.4 1510.0,951.6 1526.0,944.0 1516.0,934.0 1528.0,916.0 1528.0,876.0" fill="#BCF9FF" stroke="#BCF9FF" stroke-width="0.6"/>
<polygon points="1285.0,1016.0 1284.0,976.0 1290.0,968.0 1310.0,964.0 1340.0,962.0 1380.0,965.0 1420.0,970.0 1420.0,973.0 1500.0,976.4 1560.0,974.0 1600.0,966.0 1640.0,956.0 1665.0,944.0 1658.0,932.0 1665.0,916.0 1666.0,876.0 1810.0,876.0 1810.0,1176.0 1220.0,1176.0" fill="#FFFFEA" stroke="#FFFFEA" stroke-width="0.6"/>
<polygon points="1406.0,1016.0 1406.0,1013.0 1440.0,1006.0 1460.0,999.0 1480.0,995.0 1420.0,1008.0 1440.0,1004.0 1460.0,998.0 1500.0,995.0 1560.0,991.0 1620.0,988.0 1680.0,983.0 1740.0,976.0 1770.0,970.0 1790.0,960.0 1810.0,953.0 1810.0,1176.0 1420.0,1176.0" fill="#FFF1BC" stroke="#FFF1BC" stroke-width="0.6"/>
<polygon points="1480.0,1012.8 1512.0,1012.0 1620.0,1012.0 1718.0,1011.6 1776.0,1012.4 1810.0,1014.0 1810.0,1176.0 1480.0,1176.0" fill="#FFD699" stroke="#FFD699" stroke-width="0.6"/>
<polygon points="1513.0,1023.0 1530.0,1024.0 1560.0,1030.0 1600.0,1038.0 1640.0,1043.0 1680.0,1046.0 1730.0,1050.0 1756.0,1057.0 1767.0,1065.0 1767.0,1076.0 1513.0,1076.0" fill="#FFAC75" stroke="#FFAC75" stroke-width="0.6"/>
<polygon points="1513.0,1050.0 1520.0,1051.0 1526.0,1056.0 1533.0,1068.0 1533.0,1076.0 1513.0,1076.0" fill="#FF7856" stroke="#FF7856" stroke-width="0.6"/>
<polygon points="1101.0,962.0 1136.0,962.0 1139.0,965.0 1139.0,976.0 1197.0,976.0 1200.0,979.0 1200.0,1002.6 1337.0,1002.6 1341.0,1006.0 1341.0,1013.0 1510.0,1013.0 1514.0,1016.0 1514.0,1068.0 1811.0,1068.0 1811.0,1176.0 1081.0,1176.0" fill="#fff"/>
<polyline points="1132.0,887.0 1131.6,912.0 1130.0,930.0 1127.0,956.0 1126.4,963.0" fill="none" stroke="#000" stroke-width="1.90" stroke-linejoin="round"/>
<polyline points="1191.0,887.0 1191.4,908.0 1190.0,918.0 1184.0,927.0 1182.0,940.0 1181.0,960.0 1180.6,977.0" fill="none" stroke="#000" stroke-width="1.90" stroke-linejoin="round"/>
<polyline points="1409.0,887.0 1414.0,897.0 1409.0,901.0 1409.0,911.0 1436.0,914.0 1437.0,918.0 1460.0,921.0 1420.0,912.0 1434.0,914.0 1436.0,918.0 1480.0,924.0 1508.0,926.0 1513.0,921.0 1515.0,912.0 1515.6,887.0" fill="none" stroke="#000" stroke-width="1.90" stroke-linejoin="round"/>
<polyline points="1486.0,941.0 1490.0,945.6" fill="none" stroke="#000" stroke-width="1.90" stroke-linejoin="round"/>
<polyline points="1486.0,942.0 1500.0,939.6 1508.0,938.4 1513.0,941.0 1513.0,945.0 1508.0,947.0 1494.0,946.0 1486.0,943.0 1486.0,942.0" fill="none" stroke="#000" stroke-width="1.90" stroke-linejoin="round"/>
<polyline points="1326.0,1004.0 1326.0,982.0 1325.0,976.0 1330.0,970.0 1337.0,967.0 1354.0,973.0 1380.0,976.0 1420.0,979.0 1420.0,979.0 1450.0,981.0 1500.0,981.6 1530.0,980.0 1563.0,977.0" fill="none" stroke="#000" stroke-width="1.90" stroke-linejoin="round"/>
<polyline points="1668.0,968.0 1678.0,966.0 1700.0,956.0 1712.0,949.0 1714.4,945.0 1710.0,936.0 1706.0,931.0 1711.0,926.0 1713.0,912.0 1713.6,887.0" fill="none" stroke="#000" stroke-width="1.90" stroke-linejoin="round"/>
<polyline points="1492.0,1013.0 1512.0,1011.6 1620.0,1011.6 1718.0,1011.0" fill="none" stroke="#000" stroke-width="1.90" stroke-linejoin="round"/>
<polyline points="1790.0,1009.6 1802.0,1009.6" fill="none" stroke="#000" stroke-width="1.90" stroke-linejoin="round"/>
<polyline points="1513.0,1037.6 1540.0,1040.0 1578.0,1042.4" fill="none" stroke="#000" stroke-width="1.90" stroke-linejoin="round"/>
<polyline points="1684.0,1050.0 1696.0,1055.0 1708.0,1058.0 1716.0,1064.0 1715.6,1069.0" fill="none" stroke="#000" stroke-width="1.90" stroke-linejoin="round"/>
<text x="1615.6" y="975.4" font-size="42.0" fill="#262626" text-anchor="middle" dominant-baseline="central" transform="rotate(-4.5 1615.6 975.4)">32.6</text>
<text x="1753.7" y="1011.0" font-size="42.0" fill="#262626" text-anchor="middle" dominant-baseline="central" transform="rotate(0.0 1753.7 1011.0)">33</text>
<text x="1630.2" y="1046.8" font-size="42.0" fill="#262626" text-anchor="middle" dominant-baseline="central" transform="rotate(4.0 1630.2 1046.8)">33.4</text>
</g>
<rect x="1106.5" y="887.4" width="695.0" height="272.1" fill="none" stroke="#262626" stroke-width="2.9"/>
<path d="M1106.5 955.4h8.8M1801.5 955.4h-8.8M1106.5 1023.4h8.8M1801.5 1023.4h-8.8M1106.5 1091.4h8.8M1801.5 1091.4h-8.8M1278.6 1159.5v-8.8M1278.6 887.4v8.8M1479.1 1159.5v-8.8M1479.1 887.4v8.8M1680.5 1159.5v-8.8M1680.5 887.4v8.8" stroke="#262626" stroke-width="2.6" fill="none"/>
<text x="1097.5" y="901.2" font-size="35" text-anchor="end" fill="#262626">0</text>
<text x="1097.5" y="969.2" font-size="35" text-anchor="end" fill="#262626">20</text>
<text x="1097.5" y="1037.2" font-size="35" text-anchor="end" fill="#262626">40</text>
<text x="1097.5" y="1105.2" font-size="35" text-anchor="end" fill="#262626">60</text>
<text x="1097.5" y="1173.2" font-size="35" text-anchor="end" fill="#262626">80</text>
<text x="1279.2" y="1204.5" font-size="35" text-anchor="middle" fill="#262626">121°E</text>
<text x="1479.7" y="1204.5" font-size="35" text-anchor="middle" fill="#262626">122°E</text>
<text x="1681.1" y="1204.5" font-size="35" text-anchor="middle" fill="#262626">123°E</text>
<text x="1454.0" y="875.8" font-size="39" text-anchor="middle" fill="#000">Apr 2007</text>
<text transform="translate(1041.9 1022.5) rotate(-90)" font-size="39.5" text-anchor="middle" fill="#262626">Depth(m)</text>
<text x="1136.3" y="1144.5" font-size="47.2" fill="#000">(f)</text>
<path d="M1111.0 878.1h29l-14.5 25zM1159.0 878.1h29l-14.5 25zM1211.0 878.1h29l-14.5 25zM1261.6 878.1h29l-14.5 25zM1311.6 878.1h29l-14.5 25zM1361.6 878.1h29l-14.5 25zM1412.5 878.1h29l-14.5 25zM1462.2 878.1h29l-14.5 25zM1512.0 878.1h29l-14.5 25zM1561.6 878.1h29l-14.5 25zM1613.4 878.1h29l-14.5 25zM1663.4 878.1h29l-14.5 25zM1714.6 878.1h29l-14.5 25zM1764.0 878.1h29l-14.5 25z" fill="#000"/>
<rect x="1834.5" y="1145.11" width="50.0" height="14.34" fill="#2400D8"/>
<rect x="1834.5" y="1129.91" width="50.0" height="15.59" fill="#181CF7"/>
<rect x="1834.5" y="1114.72" width="50.0" height="15.59" fill="#2857FF"/>
<rect x="1834.5" y="1099.52" width="50.0" height="15.59" fill="#3D87FF"/>
<rect x="1834.5" y="1084.33" width="50.0" height="15.59" fill="#56B0FF"/>
<rect x="1834.5" y="1069.13" width="50.0" height="15.59" fill="#75D3FF"/>
<rect x="1834.5" y="1053.94" width="50.0" height="15.59" fill="#99EAFF"/>
<rect x="1834.5" y="1038.74" width="50.0" height="15.59" fill="#BCF9FF"/>
<rect x="1834.5" y="1023.55" width="50.0" height="15.59" fill="#EAFFFF"/>
<rect x="1834.5" y="1008.36" width="50.0" height="15.59" fill="#FFFFEA"/>
<rect x="1834.5" y="993.16" width="50.0" height="15.59" fill="#FFF1BC"/>
<rect x="1834.5" y="977.97" width="50.0" height="15.59" fill="#FFD699"/>
<rect x="1834.5" y="962.77" width="50.0" height="15.59" fill="#FFAC75"/>
<rect x="1834.5" y="947.58" width="50.0" height="15.59" fill="#FF7856"/>
<rect x="1834.5" y="932.38" width="50.0" height="15.59" fill="#FF3D3D"/>
<rect x="1834.5" y="917.19" width="50.0" height="15.59" fill="#F72735"/>
<rect x="1834.5" y="901.99" width="50.0" height="15.59" fill="#D8152F"/>
<rect x="1834.5" y="887.40" width="50.0" height="14.99" fill="#A50021"/>
<rect x="1834.5" y="887.4" width="50.0" height="272.1" fill="none" stroke="#262626" stroke-width="2.9"/>
<text x="1898.2" y="1172.0" font-size="33.5" fill="#262626">30</text>
<text x="1898.2" y="1063.2" font-size="33.5" fill="#262626">32</text>
<text x="1898.2" y="954.4" font-size="33.5" fill="#262626">34</text>
<path d="M1884.5 1050.6h-5M1884.5 941.8h-5" stroke="#262626" stroke-width="2.6" fill="none"/>
<clipPath id="cp6"><rect x="105.5" y="1306.5" width="695.0" height="272.8"/></clipPath>
<g clip-path="url(#cp6)">
<rect x="105.5" y="1306.5" width="695.0" height="272.8" fill="#FFAC75"/>
<polygon points="100.0,1295.0 332.0,1295.0 332.0,1308.0 333.0,1325.0 336.0,1331.0 337.0,1365.0 339.0,1395.0 339.0,1435.0 100.0,1435.0" fill="#FF7856" stroke="#FF7856" stroke-width="0.6"/>
<polygon points="360.0,1444.6 368.0,1444.6 420.0,1442.6 420.0,1443.0 480.0,1443.0 488.0,1445.0 494.0,1452.0 510.0,1454.0 518.0,1449.0 522.0,1439.0 532.0,1423.0 540.0,1417.4 560.0,1415.0 574.0,1415.6 620.0,1415.0 713.0,1415.0 720.0,1410.4 730.0,1407.4 740.0,1404.8 780.0,1404.0 810.0,1402.0 810.0,1600.0 360.0,1600.0" fill="#FFD699" stroke="#FFD699" stroke-width="0.6"/>
<polygon points="430.0,1475.0 430.0,1471.0 440.0,1465.0 460.0,1462.0 420.0,1464.6 460.0,1461.4 510.0,1459.4 520.0,1455.0 526.0,1447.0 534.0,1433.0 544.0,1423.0 560.0,1418.0 574.0,1417.2 620.0,1417.8 649.0,1416.6 680.0,1416.4 713.0,1416.0 716.0,1414.5 720.0,1412.3 730.0,1409.6 740.0,1407.1 770.0,1405.9 780.0,1405.5 810.0,1403.3 810.0,1600.0 430.0,1600.0" fill="#FFF1BC" stroke="#FFF1BC" stroke-width="0.6"/>
<polygon points="480.0,1475.0 480.0,1471.0 496.0,1467.0 520.0,1462.0 532.0,1455.0 544.0,1443.0 560.0,1431.0 576.0,1423.0 590.0,1419.4 620.0,1420.5 649.0,1418.2 680.0,1417.8 713.0,1417.1 716.0,1416.0 720.0,1414.3 730.0,1411.7 740.0,1409.4 770.0,1407.6 780.0,1407.0 810.0,1404.7 810.0,1600.0 480.0,1600.0" fill="#FFFFEA" stroke="#FFFFEA" stroke-width="0.6"/>
<polygon points="488.0,1475.0 488.0,1471.0 504.0,1467.4 530.0,1462.0 544.0,1457.0 560.0,1447.0 576.0,1435.0 590.0,1425.0 610.0,1420.6 649.0,1419.8 680.0,1419.2 713.0,1418.1 716.0,1417.5 720.0,1416.2 730.0,1413.9 740.0,1411.7 770.0,1409.3 780.0,1408.6 810.0,1406.1 810.0,1600.0 488.0,1600.0" fill="#EAFFFF" stroke="#EAFFFF" stroke-width="0.6"/>
<polygon points="495.0,1471.0 510.0,1466.0 544.0,1459.0 560.0,1453.0 574.0,1444.6 582.0,1442.0 600.0,1433.0 620.0,1426.0 649.0,1421.4 680.0,1420.6 716.0,1419.0 740.0,1414.0 770.0,1411.0 810.0,1407.4 810.0,1600.0 495.0,1600.0" fill="#BCF9FF" stroke="#BCF9FF" stroke-width="0.6"/>
<polygon points="507.0,1469.0 510.0,1468.2 540.0,1463.2 544.0,1462.4 560.0,1457.5 570.0,1452.9 574.0,1451.1 582.0,1448.8 599.0,1442.0 600.0,1441.6 620.0,1434.9 649.0,1428.8 650.0,1428.6 657.0,1428.3 680.0,1424.7 700.0,1421.8 716.0,1420.8 740.0,1416.6 770.0,1413.3 810.0,1410.0 810.0,1600.0 507.0,1600.0" fill="#99EAFF" stroke="#99EAFF" stroke-width="0.6"/>
<polygon points="507.0,1471.0 510.0,1470.5 540.0,1466.6 544.0,1465.9 560.0,1462.2 570.0,1459.1 574.0,1457.8 582.0,1455.9 599.0,1450.9 600.0,1450.5 620.0,1444.1 649.0,1436.4 650.0,1436.1 657.0,1435.5 680.0,1428.9 700.0,1423.9 716.0,1422.6 740.0,1419.4 770.0,1415.7 810.0,1412.8 810.0,1600.0 507.0,1600.0" fill="#75D3FF" stroke="#75D3FF" stroke-width="0.6"/>
<polygon points="507.0,1474.0 540.0,1471.0 570.0,1466.0 599.0,1460.4 620.0,1454.0 650.0,1444.4 657.0,1443.6 680.0,1434.0 700.0,1427.0 740.0,1423.0 770.0,1419.0 810.0,1416.4 810.0,1600.0 507.0,1600.0" fill="#56B0FF" stroke="#56B0FF" stroke-width="0.6"/>
<polygon points="571.0,1484.0 580.0,1478.0 594.0,1473.0 620.0,1472.0 670.0,1473.0 676.0,1477.0 670.0,1483.0 650.0,1487.0 620.0,1489.0 580.0,1489.0 572.0,1487.0" fill="#3D87FF" stroke="#3D87FF" stroke-width="0.6"/>
<polygon points="689.0,1453.0 694.0,1447.0 704.0,1441.0 714.0,1438.0 722.0,1445.0 724.0,1455.0 718.0,1464.0 710.0,1467.0 700.0,1465.0 690.0,1457.0" fill="#3D87FF" stroke="#3D87FF" stroke-width="0.6"/>
<polygon points="100.0,1395.0 135.0,1395.0 138.0,1398.0 138.0,1408.0 276.0,1408.0 279.0,1411.0 279.0,1421.6 337.0,1421.6 340.0,1425.0 340.0,1432.0 365.0,1432.0 368.0,1435.0 368.0,1470.0 506.0,1470.0 509.0,1473.0 509.0,1494.0 570.0,1494.0 573.0,1497.0 573.0,1545.0 598.0,1545.0 601.0,1548.0 601.0,1552.0 740.0,1552.0 742.4,1555.0 742.4,1562.0 768.0,1562.0 770.4,1565.0 770.4,1572.0 810.0,1572.0 810.0,1595.0 80.0,1595.0" fill="#fff"/>
<polyline points="409.0,1471.0 411.0,1466.0 416.0,1462.6 440.0,1460.0 420.0,1462.0 460.0,1458.6 510.0,1456.6 518.0,1454.6 523.0,1452.0" fill="none" stroke="#000" stroke-width="1.90" stroke-linejoin="round"/>
<polyline points="574.0,1416.6 620.0,1415.6 680.0,1415.6 713.0,1415.6 720.0,1411.0 730.0,1408.0 740.0,1405.4 780.0,1404.6 810.0,1402.6" fill="none" stroke="#000" stroke-width="1.90" stroke-linejoin="round"/>
<polyline points="495.0,1471.0 510.0,1466.0 544.0,1459.0 560.0,1453.0 574.0,1444.6 582.0,1442.0" fill="none" stroke="#000" stroke-width="1.90" stroke-linejoin="round"/>
<polyline points="649.0,1421.4 680.0,1420.6 716.0,1419.0 740.0,1414.0 770.0,1411.0 810.0,1407.4" fill="none" stroke="#000" stroke-width="1.90" stroke-linejoin="round"/>
<polyline points="507.0,1473.0 540.0,1470.0 570.0,1465.0 599.0,1459.4" fill="none" stroke="#000" stroke-width="1.90" stroke-linejoin="round"/>
<polyline points="650.0,1443.4 657.0,1442.6 680.0,1433.0 700.0,1426.0 740.0,1422.0 770.0,1418.0 810.0,1415.4" fill="none" stroke="#000" stroke-width="1.90" stroke-linejoin="round"/>
<text x="551.5" y="1433.7" font-size="42.0" fill="#262626" text-anchor="middle" dominant-baseline="central" transform="rotate(-32.0 551.5 1433.7)">18</text>
<text x="615.4" y="1429.3" font-size="42.0" fill="#262626" text-anchor="middle" dominant-baseline="central" transform="rotate(-15.0 615.4 1429.3)">15</text>
<text x="621.4" y="1452.0" font-size="42.0" fill="#262626" text-anchor="middle" dominant-baseline="central" transform="rotate(-16.0 621.4 1452.0)">12</text>
</g>
<rect x="105.5" y="1306.5" width="695.0" height="272.8" fill="none" stroke="#262626" stroke-width="2.9"/>
<path d="M105.5 1374.7h8.8M800.5 1374.7h-8.8M105.5 1442.9h8.8M800.5 1442.9h-8.8M105.5 1511.1h8.8M800.5 1511.1h-8.8M277.6 1579.3v-8.8M277.6 1306.5v8.8M478.1 1579.3v-8.8M478.1 1306.5v8.8M679.5 1579.3v-8.8M679.5 1306.5v8.8" stroke="#262626" stroke-width="2.6" fill="none"/>
<text x="96.5" y="1320.3" font-size="35" text-anchor="end" fill="#262626">0</text>
<text x="96.5" y="1388.5" font-size="35" text-anchor="end" fill="#262626">20</text>
<text x="96.5" y="1456.7" font-size="35" text-anchor="end" fill="#262626">40</text>
<text x="96.5" y="1524.9" font-size="35" text-anchor="end" fill="#262626">60</text>
<text x="96.5" y="1593.1" font-size="35" text-anchor="end" fill="#262626">80</text>
<text x="278.2" y="1624.3" font-size="35" text-anchor="middle" fill="#262626">121°E</text>
<text x="478.7" y="1624.3" font-size="35" text-anchor="middle" fill="#262626">122°E</text>
<text x="680.1" y="1624.3" font-size="35" text-anchor="middle" fill="#262626">123°E</text>
<text x="453.0" y="1294.9" font-size="39" text-anchor="middle" fill="#000">Oct 2007</text>
<text transform="translate(40.9 1442.0) rotate(-90)" font-size="39.5" text-anchor="middle" fill="#262626">Depth(m)</text>
<text x="135.3" y="1564.4" font-size="47.2" fill="#000">(g)</text>
<path d="M112.5 1297.0h29l-14.5 25zM160.5 1297.0h29l-14.5 25zM212.5 1297.0h29l-14.5 25zM263.1 1297.0h29l-14.5 25zM313.1 1297.0h29l-14.5 25zM363.1 1297.0h29l-14.5 25zM414.0 1297.0h29l-14.5 25zM463.7 1297.0h29l-14.5 25zM513.5 1297.0h29l-14.5 25zM563.1 1297.0h29l-14.5 25zM614.9 1297.0h29l-14.5 25zM664.9 1297.0h29l-14.5 25zM716.1 1297.0h29l-14.5 25zM765.5 1297.0h29l-14.5 25z" fill="#000"/>
<rect x="833.5" y="1564.92" width="50.0" height="14.38" fill="#2400D8"/>
<rect x="833.5" y="1549.68" width="50.0" height="15.64" fill="#181CF7"/>
<rect x="833.5" y="1534.44" width="50.0" height="15.64" fill="#2857FF"/>
<rect x="833.5" y="1519.21" width="50.0" height="15.64" fill="#3D87FF"/>
<rect x="833.5" y="1503.97" width="50.0" height="15.64" fill="#56B0FF"/>
<rect x="833.5" y="1488.73" width="50.0" height="15.64" fill="#75D3FF"/>
<rect x="833.5" y="1473.50" width="50.0" height="15.64" fill="#99EAFF"/>
<rect x="833.5" y="1458.26" width="50.0" height="15.64" fill="#BCF9FF"/>
<rect x="833.5" y="1443.03" width="50.0" height="15.64" fill="#EAFFFF"/>
<rect x="833.5" y="1427.79" width="50.0" height="15.64" fill="#FFFFEA"/>
<rect x="833.5" y="1412.55" width="50.0" height="15.64" fill="#FFF1BC"/>
<rect x="833.5" y="1397.32" width="50.0" height="15.64" fill="#FFD699"/>
<rect x="833.5" y="1382.08" width="50.0" height="15.64" fill="#FFAC75"/>
<rect x="833.5" y="1366.84" width="50.0" height="15.64" fill="#FF7856"/>
<rect x="833.5" y="1351.61" width="50.0" height="15.64" fill="#FF3D3D"/>
<rect x="833.5" y="1336.37" width="50.0" height="15.64" fill="#F72735"/>
<rect x="833.5" y="1321.13" width="50.0" height="15.64" fill="#D8152F"/>
<rect x="833.5" y="1306.50" width="50.0" height="15.03" fill="#A50021"/>
<rect x="833.5" y="1306.5" width="50.0" height="272.8" fill="none" stroke="#262626" stroke-width="2.9"/>
<text x="897.2" y="1390.3" font-size="33.5" fill="#262626">20</text>
<text x="897.2" y="1463.0" font-size="33.5" fill="#262626">15</text>
<text x="897.2" y="1535.0" font-size="33.5" fill="#262626">10</text>
<text x="897.2" y="1319.1" font-size="33.5" fill="#262626">25</text>
<path d="M883.5 1377.7h-5M883.5 1450.4h-5M883.5 1522.4h-5" stroke="#262626" stroke-width="2.6" fill="none"/>
<clipPath id="cp7"><rect x="1106.5" y="1306.5" width="695.0" height="272.8"/></clipPath>
<g clip-path="url(#cp7)">
<rect x="1106.5" y="1306.5" width="695.0" height="272.8" fill="#56B0FF"/>
<polygon points="1100.0,1295.0 1162.4,1295.0 1163.0,1355.0 1162.4,1435.0 1100.0,1435.0" fill="#3D87FF" stroke="#3D87FF" stroke-width="0.6"/>
<polygon points="1100.0,1295.0 1126.0,1295.0 1126.0,1435.0 1100.0,1435.0" fill="#2857FF" stroke="#2857FF" stroke-width="0.6"/>
<polygon points="1340.0,1435.0 1340.0,1407.0 1342.0,1385.0 1345.0,1361.0 1349.0,1341.0 1352.0,1334.0 1364.0,1332.0 1400.0,1332.0 1460.0,1334.0 1480.0,1335.0 1486.0,1331.0 1470.0,1327.0 1480.0,1323.0 1420.0,1332.0 1460.0,1334.0 1480.0,1335.0 1486.0,1331.0 1470.0,1327.0 1484.0,1319.0 1480.0,1295.0 1810.0,1295.0 1810.0,1595.0 1200.0,1595.0" fill="#75D3FF" stroke="#75D3FF" stroke-width="0.6"/>
<polygon points="1368.0,1440.0 1360.0,1432.0 1359.6,1415.0 1362.0,1399.0 1368.0,1390.0 1384.0,1394.0 1404.0,1404.0 1414.0,1415.0 1440.0,1421.0 1438.0,1428.0 1460.0,1431.0 1476.0,1433.4 1489.0,1431.0 1492.0,1423.0 1500.0,1411.0 1508.0,1401.0 1520.0,1394.0 1540.0,1391.0 1570.0,1388.0 1580.0,1379.0 1586.0,1365.0 1590.0,1345.0 1594.0,1325.0 1595.0,1295.0 1740.0,1295.0 1740.0,1325.0 1744.0,1339.0 1754.0,1351.0 1758.0,1365.0 1760.0,1385.0 1764.0,1395.0 1776.0,1401.0 1810.0,1396.0 1810.0,1595.0 1368.0,1595.0" fill="#99EAFF" stroke="#99EAFF" stroke-width="0.6"/>
<polygon points="1450.0,1445.0 1460.0,1442.0 1482.0,1441.4 1482.0,1445.4 1464.0,1447.0" fill="#75D3FF" stroke="#75D3FF" stroke-width="0.6"/>
<polygon points="1548.0,1419.0 1564.0,1415.0 1580.0,1419.0 1572.0,1423.0 1556.0,1423.0" fill="#75D3FF" stroke="#75D3FF" stroke-width="0.6"/>
<polygon points="1450.0,1444.0 1466.0,1441.0 1482.0,1443.0 1480.0,1446.0 1456.0,1446.6" fill="#75D3FF" stroke="#75D3FF" stroke-width="0.6"/>
<polygon points="1498.0,1459.4 1508.0,1457.4 1520.0,1459.4 1510.0,1462.0" fill="#75D3FF" stroke="#75D3FF" stroke-width="0.6"/>
<polygon points="1506.0,1495.0 1506.0,1470.0 1530.0,1468.0 1552.0,1465.4 1560.0,1462.0 1568.0,1455.0 1576.0,1448.6 1590.0,1446.0 1612.0,1443.4 1620.0,1441.0 1622.0,1435.0 1620.0,1429.0 1624.0,1423.0 1632.0,1420.0 1660.0,1415.0 1690.0,1411.0 1712.0,1409.4 1716.0,1408.0 1750.0,1405.6 1787.0,1404.0 1810.0,1402.0 1810.0,1600.0 1506.0,1600.0" fill="#BCF9FF" stroke="#BCF9FF" stroke-width="0.6"/>
<polygon points="1509.6,1501.5 1511.2,1474.4 1547.8,1469.7 1560.5,1464.9 1576.5,1453.7 1589.2,1450.5 1621.1,1445.8 1625.9,1439.4 1627.4,1429.8 1640.2,1424.3 1675.2,1418.7 1715.1,1412.3 1731.0,1409.1 1812.3,1400.8 1812.3,1600.0 1509.6,1600.0" fill="#EAFFFF" stroke="#EAFFFF" stroke-width="0.6"/>
<polygon points="1519.1,1501.5 1520.7,1479.2 1563.7,1472.8 1576.5,1466.5 1586.0,1456.9 1602.0,1453.7 1627.4,1448.9 1643.4,1445.0 1659.3,1442.6 1664.1,1431.4 1675.2,1424.3 1691.2,1421.9 1723.0,1415.5 1812.3,1405.1 1812.3,1600.0 1519.1,1600.0" fill="#FFFFEA" stroke="#FFFFEA" stroke-width="0.6"/>
<polygon points="1537.4,1501.5 1541.4,1480.8 1566.9,1476.0 1582.8,1480.8 1589.2,1485.6 1602.0,1479.2 1617.9,1472.8 1611.5,1461.7 1621.1,1456.9 1643.4,1453.7 1659.3,1448.9 1688.0,1442.6 1692.8,1431.4 1703.9,1425.8 1723.0,1420.3 1812.3,1409.4 1812.3,1600.0 1537.4,1600.0" fill="#FFF1BC" stroke="#FFF1BC" stroke-width="0.6"/>
<polygon points="1552.0,1495.0 1552.0,1483.0 1556.0,1478.0 1570.0,1476.0 1580.0,1480.0 1588.0,1486.0 1596.0,1488.0 1610.0,1487.4 1630.0,1484.0 1644.0,1480.0 1648.0,1473.0 1649.0,1467.0 1656.0,1461.0 1670.0,1457.0 1690.0,1452.0 1704.0,1444.0 1710.0,1438.0 1710.0,1427.0 1720.0,1425.4 1758.0,1423.0 1791.0,1417.4 1810.0,1415.0 1810.0,1600.0 1552.0,1600.0" fill="#FFD699" stroke="#FFD699" stroke-width="0.6"/>
<polygon points="1575.0,1515.0 1575.0,1497.0 1578.0,1495.0 1620.0,1492.0 1680.0,1488.0 1690.0,1481.0 1700.0,1471.0 1716.0,1463.0 1724.0,1455.0 1726.0,1447.0 1740.0,1439.0 1760.0,1435.0 1780.0,1433.0 1810.0,1430.6 1810.0,1600.0 1575.0,1600.0" fill="#FFAC75" stroke="#FFAC75" stroke-width="0.6"/>
<polygon points="1595.0,1555.0 1595.0,1515.0 1598.0,1506.0 1610.0,1507.0 1624.0,1515.0 1631.0,1525.0 1633.0,1539.0 1633.0,1555.0" fill="#FF7856" stroke="#FF7856" stroke-width="0.6"/>
<polygon points="1101.0,1395.0 1136.0,1395.0 1139.0,1398.0 1139.0,1408.0 1277.0,1408.0 1280.0,1411.0 1280.0,1421.6 1338.0,1421.6 1341.0,1425.0 1341.0,1432.0 1366.0,1432.0 1369.0,1435.0 1369.0,1470.0 1507.0,1470.0 1510.0,1473.0 1510.0,1494.0 1571.0,1494.0 1574.0,1497.0 1574.0,1545.0 1599.0,1545.0 1602.0,1548.0 1602.0,1552.0 1741.0,1552.0 1743.4,1555.0 1743.4,1562.0 1769.0,1562.0 1771.4,1565.0 1771.4,1572.0 1811.0,1572.0 1811.0,1595.0 1081.0,1595.0" fill="#fff"/>
<polyline points="1135.0,1306.0 1135.0,1396.0" fill="none" stroke="#000" stroke-width="1.90" stroke-linejoin="round"/>
<polyline points="1506.0,1470.0 1530.0,1468.0 1552.0,1465.4 1560.0,1462.0 1568.0,1455.0 1576.0,1448.6 1590.0,1446.0 1612.0,1443.4 1620.0,1441.0 1622.0,1435.0 1620.0,1429.0 1624.0,1423.0 1632.0,1420.0 1660.0,1415.0 1690.0,1411.0 1712.0,1409.4 1716.0,1408.0" fill="none" stroke="#000" stroke-width="1.90" stroke-linejoin="round"/>
<polyline points="1787.0,1404.0 1810.0,1402.0" fill="none" stroke="#000" stroke-width="1.90" stroke-linejoin="round"/>
<polyline points="1552.0,1495.0 1552.0,1483.0 1556.0,1478.0 1570.0,1476.0 1580.0,1480.0 1588.0,1486.0 1596.0,1488.0 1610.0,1487.4 1630.0,1484.0 1644.0,1480.0 1648.0,1473.0 1649.0,1467.0 1656.0,1461.0 1670.0,1457.0 1690.0,1452.0 1704.0,1444.0 1710.0,1438.0 1710.0,1427.0 1708.0,1425.0 1720.0,1425.0 1722.0,1428.0" fill="none" stroke="#000" stroke-width="1.90" stroke-linejoin="round"/>
<polyline points="1791.0,1417.4 1810.0,1415.0" fill="none" stroke="#000" stroke-width="1.90" stroke-linejoin="round"/>
<text x="1749.8" y="1406.9" font-size="42.0" fill="#262626" text-anchor="middle" dominant-baseline="central" transform="rotate(-3.0 1749.8 1406.9)">32</text>
<text x="1757.8" y="1425.5" font-size="42.0" fill="#262626" text-anchor="middle" dominant-baseline="central" transform="rotate(-4.0 1757.8 1425.5)">33</text>
</g>
<rect x="1106.5" y="1306.5" width="695.0" height="272.8" fill="none" stroke="#262626" stroke-width="2.9"/>
<path d="M1106.5 1374.7h8.8M1801.5 1374.7h-8.8M1106.5 1442.9h8.8M1801.5 1442.9h-8.8M1106.5 1511.1h8.8M1801.5 1511.1h-8.8M1278.6 1579.3v-8.8M1278.6 1306.5v8.8M1479.1 1579.3v-8.8M1479.1 1306.5v8.8M1680.5 1579.3v-8.8M1680.5 1306.5v8.8" stroke="#262626" stroke-width="2.6" fill="none"/>
<text x="1097.5" y="1320.3" font-size="35" text-anchor="end" fill="#262626">0</text>
<text x="1097.5" y="1388.5" font-size="35" text-anchor="end" fill="#262626">20</text>
<text x="1097.5" y="1456.7" font-size="35" text-anchor="end" fill="#262626">40</text>
<text x="1097.5" y="1524.9" font-size="35" text-anchor="end" fill="#262626">60</text>
<text x="1097.5" y="1593.1" font-size="35" text-anchor="end" fill="#262626">80</text>
<text x="1279.2" y="1624.3" font-size="35" text-anchor="middle" fill="#262626">121°E</text>
<text x="1479.7" y="1624.3" font-size="35" text-anchor="middle" fill="#262626">122°E</text>
<text x="1681.1" y="1624.3" font-size="35" text-anchor="middle" fill="#262626">123°E</text>
<text x="1454.0" y="1294.9" font-size="39" text-anchor="middle" fill="#000">Oct 2007</text>
<text transform="translate(1041.9 1442.0) rotate(-90)" font-size="39.5" text-anchor="middle" fill="#262626">Depth(m)</text>
<text x="1136.3" y="1564.4" font-size="47.2" fill="#000">(h)</text>
<path d="M1113.0 1297.0h29l-14.5 25zM1161.0 1297.0h29l-14.5 25zM1213.0 1297.0h29l-14.5 25zM1263.6 1297.0h29l-14.5 25zM1313.6 1297.0h29l-14.5 25zM1363.6 1297.0h29l-14.5 25zM1414.5 1297.0h29l-14.5 25zM1464.2 1297.0h29l-14.5 25zM1514.0 1297.0h29l-14.5 25zM1563.6 1297.0h29l-14.5 25zM1615.4 1297.0h29l-14.5 25zM1665.4 1297.0h29l-14.5 25zM1716.6 1297.0h29l-14.5 25zM1766.0 1297.0h29l-14.5 25z" fill="#000"/>
<rect x="1834.5" y="1564.92" width="50.0" height="14.38" fill="#2400D8"/>
<rect x="1834.5" y="1549.68" width="50.0" height="15.64" fill="#181CF7"/>
<rect x="1834.5" y="1534.44" width="50.0" height="15.64" fill="#2857FF"/>
<rect x="1834.5" y="1519.21" width="50.0" height="15.64" fill="#3D87FF"/>
<rect x="1834.5" y="1503.97" width="50.0" height="15.64" fill="#56B0FF"/>
<rect x="1834.5" y="1488.73" width="50.0" height="15.64" fill="#75D3FF"/>
<rect x="1834.5" y="1473.50" width="50.0" height="15.64" fill="#99EAFF"/>
<rect x="1834.5" y="1458.26" width="50.0" height="15.64" fill="#BCF9FF"/>
<rect x="1834.5" y="1443.03" width="50.0" height="15.64" fill="#EAFFFF"/>
<rect x="1834.5" y="1427.79" width="50.0" height="15.64" fill="#FFFFEA"/>
<rect x="1834.5" y="1412.55" width="50.0" height="15.64" fill="#FFF1BC"/>
<rect x="1834.5" y="1397.32" width="50.0" height="15.64" fill="#FFD699"/>
<rect x="1834.5" y="1382.08" width="50.0" height="15.64" fill="#FFAC75"/>
<rect x="1834.5" y="1366.84" width="50.0" height="15.64" fill="#FF7856"/>
<rect x="1834.5" y="1351.61" width="50.0" height="15.64" fill="#FF3D3D"/>
<rect x="1834.5" y="1336.37" width="50.0" height="15.64" fill="#F72735"/>
<rect x="1834.5" y="1321.13" width="50.0" height="15.64" fill="#D8152F"/>
<rect x="1834.5" y="1306.50" width="50.0" height="15.03" fill="#A50021"/>
<rect x="1834.5" y="1306.5" width="50.0" height="272.8" fill="none" stroke="#262626" stroke-width="2.9"/>
<text x="1898.2" y="1591.9" font-size="33.5" fill="#262626">30</text>
<text x="1898.2" y="1482.8" font-size="33.5" fill="#262626">32</text>
<text x="1898.2" y="1373.7" font-size="33.5" fill="#262626">34</text>
<path d="M1884.5 1470.2h-5M1884.5 1361.1h-5" stroke="#262626" stroke-width="2.6" fill="none"/>
</svg></body></html>
